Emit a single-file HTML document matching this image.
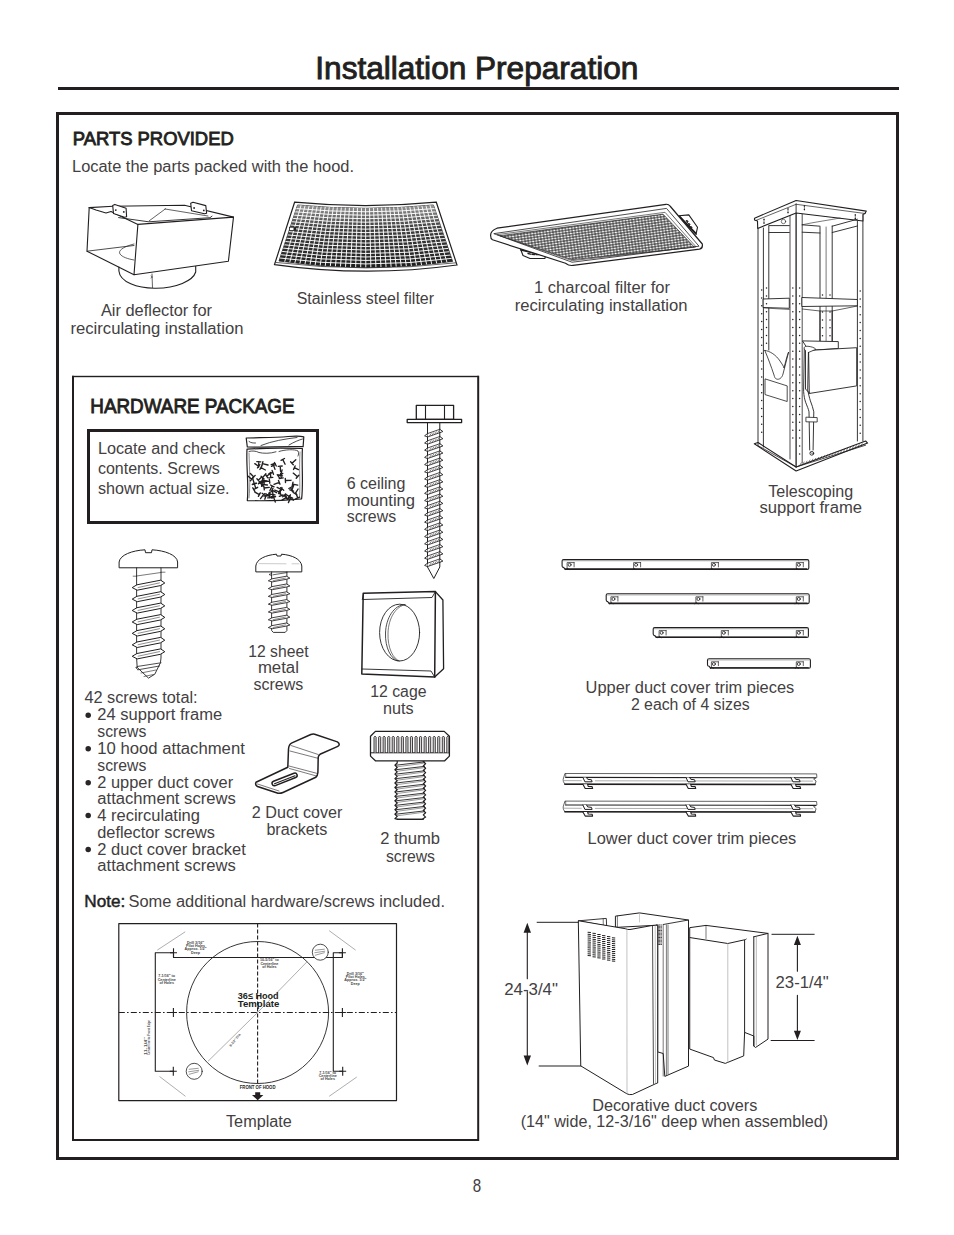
<!DOCTYPE html>
<html><head><meta charset="utf-8">
<style>
html,body{margin:0;padding:0;background:#fff;}
body{width:954px;height:1235px;overflow:hidden;}
svg{display:block;}
text{font-family:"Liberation Sans",sans-serif;}
.t{fill:#434041;}
.b{font-weight:normal;fill:#231f20;stroke:#231f20;stroke-width:0.9px;}
.k{stroke:#231f20;fill:none;stroke-linejoin:round;stroke-linecap:round;}
</style></head><body>
<svg width="954" height="1235" viewBox="0 0 954 1235">

<rect x="58" y="87" width="841" height="3" fill="#231f20"/>
<rect x="57.5" y="113.5" width="840" height="1045" fill="none" stroke="#231f20" stroke-width="3"/>
<rect x="72" y="375.8" width="407" height="1.4" fill="#231f20"/>
<rect x="72" y="375.8" width="2" height="765.2" fill="#231f20"/>
<rect x="477.2" y="375.8" width="2" height="765.2" fill="#231f20"/>
<rect x="72" y="1139" width="407" height="2" fill="#231f20"/>
<rect x="88.5" y="430.5" width="229" height="92" fill="none" stroke="#231f20" stroke-width="3"/>
<text class="b" x="315.3" y="78.8" font-size="30.6" textLength="323.0" lengthAdjust="spacingAndGlyphs">Installation Preparation</text>
<text class="b" x="72.8" y="145.4" font-size="19.2" textLength="160.9" lengthAdjust="spacingAndGlyphs">PARTS PROVIDED</text>
<text class="t" x="72" y="171.7" font-size="16" textLength="282.0" lengthAdjust="spacingAndGlyphs">Locate the parts packed with the hood.</text>
<text class="t" x="100.9" y="316.4" font-size="16" textLength="111.1" lengthAdjust="spacingAndGlyphs">Air deflector for</text>
<text class="t" x="70.5" y="334.0" font-size="16" textLength="172.9" lengthAdjust="spacingAndGlyphs">recirculating installation</text>
<text class="t" x="296.7" y="303.7" font-size="16" textLength="137.3" lengthAdjust="spacingAndGlyphs">Stainless steel filter</text>
<text class="t" x="534" y="293.4" font-size="16" textLength="136.0" lengthAdjust="spacingAndGlyphs">1 charcoal filter for</text>
<text class="t" x="514.7" y="311.0" font-size="16" textLength="172.8" lengthAdjust="spacingAndGlyphs">recirculating installation</text>
<text class="t" x="768.2" y="496.6" font-size="16" textLength="84.9" lengthAdjust="spacingAndGlyphs">Telescoping</text>
<text class="t" x="759.4" y="513.3" font-size="16" textLength="102.6" lengthAdjust="spacingAndGlyphs">support frame</text>
<text class="b" x="90.3" y="413.0" font-size="20.6" textLength="204.3" lengthAdjust="spacingAndGlyphs">HARDWARE PACKAGE</text>
<text class="t" x="97.9" y="454.4" font-size="16" textLength="127.3" lengthAdjust="spacingAndGlyphs">Locate and check</text>
<text class="t" x="97.9" y="474.3" font-size="16" textLength="121.8" lengthAdjust="spacingAndGlyphs">contents. Screws</text>
<text class="t" x="97.9" y="494.3" font-size="16" textLength="131.7" lengthAdjust="spacingAndGlyphs">shown actual size.</text>
<text class="t" x="346.7" y="488.5" font-size="16" textLength="58.7" lengthAdjust="spacingAndGlyphs">6 ceiling</text>
<text class="t" x="346.7" y="505.5" font-size="16" textLength="68.4" lengthAdjust="spacingAndGlyphs">mounting</text>
<text class="t" x="346.7" y="522.1" font-size="16" textLength="49.4" lengthAdjust="spacingAndGlyphs">screws</text>
<text class="t" x="248.3" y="656.5" font-size="16" textLength="60.2" lengthAdjust="spacingAndGlyphs">12 sheet</text>
<text class="t" x="257.9" y="673.4" font-size="16" textLength="41.0" lengthAdjust="spacingAndGlyphs">metal</text>
<text class="t" x="253.6" y="689.8" font-size="16" textLength="49.6" lengthAdjust="spacingAndGlyphs">screws</text>
<text class="t" x="370.2" y="697.3" font-size="16" textLength="56.3" lengthAdjust="spacingAndGlyphs">12 cage</text>
<text class="t" x="383" y="714.0" font-size="16" textLength="30.6" lengthAdjust="spacingAndGlyphs">nuts</text>
<text class="t" x="84.4" y="703.4" font-size="16" textLength="113.2" lengthAdjust="spacingAndGlyphs">42 screws total:</text>
<text class="t" x="97.3" y="720.4" font-size="16" textLength="124.9" lengthAdjust="spacingAndGlyphs">24 support frame</text>
<text class="t" x="97.3" y="737.0" font-size="16" textLength="49.0" lengthAdjust="spacingAndGlyphs">screws</text>
<text class="t" x="97.3" y="754.0" font-size="16" textLength="147.5" lengthAdjust="spacingAndGlyphs">10 hood attachment</text>
<text class="t" x="97.3" y="771.0" font-size="16" textLength="49.0" lengthAdjust="spacingAndGlyphs">screws</text>
<text class="t" x="97.3" y="788.0" font-size="16" textLength="135.8" lengthAdjust="spacingAndGlyphs">2 upper duct cover</text>
<text class="t" x="97.3" y="803.8" font-size="16" textLength="138.5" lengthAdjust="spacingAndGlyphs">attachment screws</text>
<text class="t" x="97.3" y="820.8" font-size="16" textLength="102.6" lengthAdjust="spacingAndGlyphs">4 recirculating</text>
<text class="t" x="97.3" y="837.8" font-size="16" textLength="117.7" lengthAdjust="spacingAndGlyphs">deflector screws</text>
<text class="t" x="97.3" y="854.8" font-size="16" textLength="148.5" lengthAdjust="spacingAndGlyphs">2 duct cover bracket</text>
<text class="t" x="97.3" y="871.4" font-size="16" textLength="138.5" lengthAdjust="spacingAndGlyphs">attachment screws</text>
<text class="t" x="251.8" y="818.4" font-size="16" textLength="90.6" lengthAdjust="spacingAndGlyphs">2 Duct cover</text>
<text class="t" x="266.4" y="834.6" font-size="16" textLength="60.9" lengthAdjust="spacingAndGlyphs">brackets</text>
<text class="t" x="380.2" y="843.6" font-size="16" textLength="59.8" lengthAdjust="spacingAndGlyphs">2 thumb</text>
<text class="t" x="385.9" y="861.7" font-size="16" textLength="49.1" lengthAdjust="spacingAndGlyphs">screws</text>
<text class="t" x="226" y="1127.0" font-size="16" textLength="65.8" lengthAdjust="spacingAndGlyphs">Template</text>
<text class="t" x="585.6" y="693.2" font-size="16" textLength="208.6" lengthAdjust="spacingAndGlyphs">Upper duct cover trim pieces</text>
<text class="t" x="630.9" y="709.9" font-size="16" textLength="118.8" lengthAdjust="spacingAndGlyphs">2 each of 4 sizes</text>
<text class="t" x="587.6" y="844.3" font-size="16" textLength="208.6" lengthAdjust="spacingAndGlyphs">Lower duct cover trim pieces</text>
<text class="t" x="504.2" y="995.4" font-size="16" textLength="53.8" lengthAdjust="spacingAndGlyphs">24-3/4&quot;</text>
<text class="t" x="775.6" y="988.1" font-size="16" textLength="53.2" lengthAdjust="spacingAndGlyphs">23-1/4&quot;</text>
<text class="t" x="592.2" y="1111.0" font-size="16" textLength="165.1" lengthAdjust="spacingAndGlyphs">Decorative duct covers</text>
<text class="t" x="520.7" y="1127.2" font-size="16" textLength="307.4" lengthAdjust="spacingAndGlyphs">(14&quot; wide, 12-3/16&quot; deep when assembled)</text>
<text class="t" x="472.7" y="1191.8" font-size="18.6" textLength="8.4" lengthAdjust="spacingAndGlyphs">8</text>
<text class="b" x="84.3" y="906.5" font-size="16" style="stroke-width:0.45px" textLength="41" lengthAdjust="spacingAndGlyphs">Note:</text>
<text class="t" x="128.5" y="906.6" font-size="16" textLength="316.5" lengthAdjust="spacingAndGlyphs">Some additional hardware/screws included.</text>
<circle cx="88.2" cy="715.2" r="2.75" fill="#2a2627"/>
<circle cx="88.2" cy="748.8" r="2.75" fill="#2a2627"/>
<circle cx="88.2" cy="782.8" r="2.75" fill="#2a2627"/>
<circle cx="88.2" cy="815.6" r="2.75" fill="#2a2627"/>
<circle cx="88.2" cy="849.6" r="2.75" fill="#2a2627"/><g class="k" stroke-width="1.1">
<!-- cylinder -->
<path d="M118.9,267 L118.9,271 C120,282 137,288.5 156,288.2 C176,288 193,281 195.7,272 L195.7,266" fill="#fff"/>
<path d="M152,274 L152.5,287.5" stroke-width="0.7"/>
<path d="M151,276 l1.5,1 -1.5,1" stroke-width="0.6"/>
<!-- back top edge + right side top -->
<path d="M89.2,207.6 L113,206.2 L184.5,205.2 L233.5,217.1"/>
<!-- left side face -->
<path d="M89.2,207.6 L87,251.2 L134,274.7"/>
<!-- inner bottom edge of left opening -->
<path d="M87,251.2 L134,245.5" stroke-width="0.8"/>
<path d="M134,244 C122,247 118,251 120,254 C122,257 128,259 134,260" stroke-width="0.7"/>
<!-- front face -->
<path d="M137.9,224.4 L233.5,217.1 L228.4,261.2 L134,274.7 Z" fill="#fff"/>
<!-- top left edge -->
<path d="M89.2,207.6 L96,210 L106,213 L111,211.5 L137.9,224.4"/>
<!-- inner far edge -->
<path d="M118.6,217.6 L148.7,221.8 L210,217.7 L212,216.2" stroke-width="0.9"/>
<path d="M149,221 L165.5,208.8" stroke-width="0.7"/>
<path d="M165,209 L208,216" stroke-width="0.7"/>
<!-- tabs -->
<path d="M112.7,205.4 L114.8,204.4 L126.1,208.2 L126.6,216.8 L124.5,217.3 L113.5,213.6 Z" fill="#fff"/>
<path d="M190.7,203.2 L193,202.2 L205.8,205.6 L206.6,213.2 L204.4,213.8 L191.5,210.8 Z" fill="#fff"/>
<circle cx="115.8" cy="210.1" r="0.9" fill="#231f20" stroke="none"/>
<circle cx="123.8" cy="211.9" r="0.9" fill="#231f20" stroke="none"/>
<circle cx="194.1" cy="208" r="0.9" fill="#231f20" stroke="none"/>
<circle cx="203.8" cy="210.4" r="0.9" fill="#231f20" stroke="none"/>
</g>

<g>
<path d="M294.6,202.2 Q365.4,209.0 436.3,202.2 L457,265.0 Q365.7,277.6 274.5,264.6 Z" fill="#fff" stroke="#231f20" stroke-width="1.2"/>
<path d="M297.6,205.0 Q365.5,211.6 433.4,205.0 L452.6,261.4 Q365.8,273.6 279.0,261.0 Z" fill="#1e1e1e" stroke="#231f20" stroke-width="0.8"/>
<clipPath id="ssclip"><path d="M297.6,205.0 Q365.5,211.6 433.4,205.0 L452.6,261.4 Q365.8,273.6 279.0,261.0 Z"/></clipPath>
<g clip-path="url(#ssclip)" stroke="#fff" stroke-width="0.95" fill="none">
<line x1="301.59" y1="203.38" x2="284.11" y2="263.72"/>
<line x1="305.59" y1="203.73" x2="289.21" y2="264.40"/>
<line x1="309.58" y1="204.06" x2="294.32" y2="265.03"/>
<line x1="313.58" y1="204.37" x2="299.42" y2="265.62"/>
<line x1="317.57" y1="204.66" x2="304.53" y2="266.17"/>
<line x1="321.56" y1="204.92" x2="309.64" y2="266.67"/>
<line x1="325.56" y1="205.16" x2="314.74" y2="267.14"/>
<line x1="329.55" y1="205.38" x2="319.85" y2="267.56"/>
<line x1="333.55" y1="205.57" x2="324.95" y2="267.93"/>
<line x1="337.54" y1="205.74" x2="330.06" y2="268.27"/>
<line x1="341.54" y1="205.89" x2="335.16" y2="268.56"/>
<line x1="345.53" y1="206.01" x2="340.27" y2="268.80"/>
<line x1="349.52" y1="206.12" x2="345.38" y2="269.01"/>
<line x1="353.52" y1="206.20" x2="350.48" y2="269.17"/>
<line x1="357.51" y1="206.25" x2="355.59" y2="269.29"/>
<line x1="361.51" y1="206.29" x2="360.69" y2="269.37"/>
<line x1="365.50" y1="206.30" x2="365.80" y2="269.40"/>
<line x1="369.49" y1="206.29" x2="370.91" y2="269.39"/>
<line x1="373.49" y1="206.25" x2="376.01" y2="269.34"/>
<line x1="377.48" y1="206.20" x2="381.12" y2="269.24"/>
<line x1="381.48" y1="206.12" x2="386.22" y2="269.10"/>
<line x1="385.47" y1="206.01" x2="391.33" y2="268.92"/>
<line x1="389.46" y1="205.89" x2="396.44" y2="268.70"/>
<line x1="393.46" y1="205.74" x2="401.54" y2="268.43"/>
<line x1="397.45" y1="205.57" x2="406.65" y2="268.12"/>
<line x1="401.45" y1="205.38" x2="411.75" y2="267.77"/>
<line x1="405.44" y1="205.16" x2="416.86" y2="267.37"/>
<line x1="409.44" y1="204.92" x2="421.96" y2="266.93"/>
<line x1="413.43" y1="204.66" x2="427.07" y2="266.45"/>
<line x1="417.42" y1="204.37" x2="432.18" y2="265.93"/>
<line x1="421.42" y1="204.06" x2="437.28" y2="265.36"/>
<line x1="425.41" y1="203.73" x2="442.39" y2="264.75"/>
<line x1="429.41" y1="203.38" x2="447.49" y2="264.10"/>
<path d="M293.51,208.29 Q365.52,215.25 437.53,208.32"/>
<path d="M292.41,211.59 Q365.54,218.89 438.66,211.64"/>
<path d="M291.32,214.88 Q365.55,222.54 439.79,214.95"/>
<path d="M290.22,218.18 Q365.57,226.19 440.92,218.27"/>
<path d="M289.13,221.47 Q365.59,229.84 442.05,221.59"/>
<path d="M288.04,224.76 Q365.61,233.48 443.18,224.91"/>
<path d="M286.94,228.06 Q365.62,237.13 444.31,228.22"/>
<path d="M285.85,231.35 Q365.64,240.78 445.44,231.54"/>
<path d="M284.75,234.65 Q365.66,244.42 446.56,234.86"/>
<path d="M283.66,237.94 Q365.68,248.07 447.69,238.18"/>
<path d="M282.56,241.24 Q365.69,251.72 448.82,241.49"/>
<path d="M281.47,244.53 Q365.71,255.36 449.95,244.81"/>
<path d="M280.38,247.82 Q365.73,259.01 451.08,248.13"/>
<path d="M279.28,251.12 Q365.75,262.66 452.21,251.45"/>
<path d="M278.19,254.41 Q365.76,266.31 453.34,254.76"/>
<path d="M277.09,257.71 Q365.78,269.95 454.47,258.08"/>
</g>
<defs><linearGradient id="ssg" x1="0" y1="0" x2="0" y2="1"><stop offset="0" stop-color="#fff" stop-opacity="0.55"/><stop offset="0.35" stop-color="#fff" stop-opacity="0.15"/><stop offset="1" stop-color="#fff" stop-opacity="0"/></linearGradient></defs>
<path d="M297.6,205.0 Q365.5,211.6 433.4,205.0 L452.6,261.4 Q365.8,273.6 279.0,261.0 Z" fill="url(#ssg)" stroke="none"/>
<path d="M275.5,262.40000000000003 Q365.7,273.20000000000005 456,262.8" fill="none" stroke="#231f20" stroke-width="0.7"/>
<rect x="289.5" y="227.2" width="6" height="3.4" fill="#fff" stroke="#222" stroke-width="0.8"/><rect x="293.5" y="227.2" width="2.5" height="3.4" fill="#222"/>
</g>
<defs>
<pattern id="hexp" width="3.2" height="2.6" patternUnits="userSpaceOnUse" patternTransform="rotate(-8)">
<rect width="3.2" height="2.6" fill="#fff"/>
<path d="M0,1.3 L0.8,0 L2.4,0 L3.2,1.3 L2.4,2.6 L0.8,2.6 Z" fill="none" stroke="#262626" stroke-width="0.8"/>
</pattern>
</defs>
<g class="k">
<!-- right tab -->
<path d="M678.9,215.7 L688.8,214.9 L697.5,227.3 L696.2,233.5 Z" fill="#fff" stroke-width="1.1"/>
<path d="M679.5,216.5 L696,234" stroke-width="1.8"/>
<path d="M686.5,220.5 l1.6,0.6 -0.6,1.4 Z M688.5,223.5 l1.6,0.6 -0.6,1.4 Z M690.5,226.5 l1.6,0.6 -0.6,1.4 Z" fill="#231f20" stroke-width="0.9"/>
<!-- bottom-left tab -->
<path d="M520.5,249 L523,255.5 L530,258.5 L545,258.5 L545.5,255 Z" fill="#fff" stroke-width="1.1"/>
<path d="M521,250 L545,255.5" stroke-width="1.6"/>
<path d="M528,253.5 l2.5,0.6 M532,254.3 l2.5,0.3 M536,254.6 l2.5,0" stroke-width="1.4"/>
<!-- outer outline -->
<path d="M490.6,235.5 Q490.5,230.5 497,228.2 L666,204.3 Q668.5,204 670,206 L702.3,244 Q703,248.5 699.5,249.2 L573,265.4 Q569,266 565.5,263.2 L492.5,239.8 Q490.6,238.8 490.6,235.5 Z" fill="#fff" stroke-width="1.2"/>
<!-- inner rims -->
<path d="M494.2,233.6 L666.5,208.4 L699,246.2 L572.5,262.2 Z" stroke-width="0.8"/>
<path d="M497.5,234.6 L665,212.3 L696,246.8 L572.5,260.6 Z" stroke-width="0.6"/>
<!-- mesh -->
<path d="M500.3,235.7 L663,214.2 L694.4,247.2 L572.3,259.6 Z" fill="url(#hexp)" stroke-width="0.7"/>
</g>

<g class="k" stroke-width="0.9">
<path d="M754.3,443.8 L796.1,471 L867.6,443.1 L865.6,441 L796.1,467 L758,442.5 Z" fill="#fff" stroke-width="1.1"/>
<path d="M758,445.6 L796.1,467 L865.6,445.2" stroke-width="0.8"/>
<path d="M800.0,465.1 l1.2,-2.2" stroke-width="0.55"/>
<path d="M802.9,464.2 l1.2,-2.2" stroke-width="0.55"/>
<path d="M805.8,463.3 l1.2,-2.2" stroke-width="0.55"/>
<path d="M808.7,462.3 l1.2,-2.2" stroke-width="0.55"/>
<path d="M811.6,461.4 l1.2,-2.2" stroke-width="0.55"/>
<path d="M814.5,460.5 l1.2,-2.2" stroke-width="0.55"/>
<path d="M817.4,459.6 l1.2,-2.2" stroke-width="0.55"/>
<path d="M820.3,458.7 l1.2,-2.2" stroke-width="0.55"/>
<path d="M823.2,457.8 l1.2,-2.2" stroke-width="0.55"/>
<path d="M826.1,456.9 l1.2,-2.2" stroke-width="0.55"/>
<path d="M829.0,456.0 l1.2,-2.2" stroke-width="0.55"/>
<path d="M831.9,455.1 l1.2,-2.2" stroke-width="0.55"/>
<path d="M834.8,454.2 l1.2,-2.2" stroke-width="0.55"/>
<path d="M837.7,453.3 l1.2,-2.2" stroke-width="0.55"/>
<path d="M840.6,452.3 l1.2,-2.2" stroke-width="0.55"/>
<path d="M843.5,451.4 l1.2,-2.2" stroke-width="0.55"/>
<path d="M846.4,450.5 l1.2,-2.2" stroke-width="0.55"/>
<path d="M849.3,449.6 l1.2,-2.2" stroke-width="0.55"/>
<path d="M852.2,448.7 l1.2,-2.2" stroke-width="0.55"/>
<path d="M855.1,447.8 l1.2,-2.2" stroke-width="0.55"/>
<path d="M858.0,446.9 l1.2,-2.2" stroke-width="0.55"/>
<path d="M860.9,446.0 l1.2,-2.2" stroke-width="0.55"/>
<line x1="758" y1="228" x2="758" y2="445"/>
<line x1="763.4" y1="228" x2="763.4" y2="447"/>
<line x1="768.8" y1="226" x2="768.8" y2="299"/>
<line x1="768.8" y1="308" x2="768.8" y2="350"/>
<line x1="790" y1="213" x2="790" y2="459" stroke-width="0.8"/>
<line x1="796.1" y1="203" x2="796.1" y2="467" stroke-width="1.3"/>
<line x1="802.2" y1="213" x2="802.2" y2="463" stroke-width="0.8"/>
<line x1="857.4" y1="221" x2="857.4" y2="441" />
<line x1="862.9" y1="215" x2="862.9" y2="441" />
<line x1="820" y1="227" x2="820" y2="341"/>
<line x1="826.1" y1="227" x2="826.1" y2="341" stroke-width="0.6"/>
<line x1="832.2" y1="226" x2="832.2" y2="341"/>
<path d="M754.5,218.2 L796.1,200.5 L866.3,211.1 L865,213.5 L862.9,214.5 L862.9,221 L796.1,213 L757.7,228.4 L757.5,221 L754.5,220 Z" fill="#fff" stroke-width="1.1"/>
<path d="M756,220.4 L796.1,204.3 L865,213.5" stroke-width="0.7"/>
<line x1="796.1" y1="203.8" x2="796.1" y2="213"/>
<path d="M769,225.6 L789.3,225.6 M769,232.5 L789.3,232.5" />
<path d="M802.2,224.8 L820,226.2 M802.2,232.2 L820,233" />
<path d="M832.2,226.2 L857.4,219.2 M832.2,232.5 L857.4,226" />
<path d="M802.2,224.8 C815,222 830,220 840,218" stroke-width="0.6"/>
<circle cx="783.5" cy="221.5" r="2.2" stroke-width="0.6"/>
<path d="M763.4,299 L789.3,298.2 L789.3,308.3 L763.4,307.5 Z" fill="#fff"/>
<path d="M764.5,308 L789.3,309.5" stroke-width="0.6"/>
<path d="M802.2,297.5 L857.4,299.5 L857.4,305.8 L802.2,306.5 Z" fill="#fff"/>
<path d="M802.2,309 L820,311 L832.2,311 L857.4,306" stroke-width="0.7"/>
<line x1="820" y1="311" x2="820" y2="341"/><line x1="832.2" y1="311" x2="832.2" y2="341"/>
<path d="M802.9,340.9 L838.3,341.6 L838.3,348.5 L809,350.4 Z" fill="#fff"/>
<path d="M809,350.4 L856.7,347.7 L856.7,385.9 L809.7,393.4 Z" fill="#fff"/>
<path d="M809,350.4 L805.5,349 L805.5,389 L809.7,393.4" />
<path d="M804.3,349.1 C803.5,347 805,346 808,346.3 C811,346.6 814,347.3 815.9,349.3 L808.4,352.5" fill="#fff" stroke-width="0.8"/>
<path d="M804.3,349.1 L803.6,391.3 C804,396 804.5,399 805.6,402.2 C807,406 808.5,409 809,411.8 L809.7,450" stroke-width="0.9"/>
<path d="M808.4,352.5 L807.7,390 C808.5,394 809.5,398 810.4,400.9 C811.8,404.5 813,408 813.8,411.8 L813.1,450" stroke-width="0.9"/>
<path d="M806.3,417.2 L817.2,417.6 L817.2,422 L806.3,421.8 Z" fill="#fff" stroke-width="0.8"/>
<circle cx="811.8" cy="453.3" r="1.9" fill="#fff" stroke-width="0.9"/>
<path d="M810.5,452.5 l2.6,1.6" stroke-width="0.6"/>
<path d="M764.8,350.4 C770,351 776,355 780,361 C782,364 783.5,366 784,368 C785.5,362 787,356 788.6,352 L783,374 C782,378 779,380 776.5,379 C775,378.5 774.5,377 774,375 C771,366 768,358 764.8,350.4 Z" fill="#fff" stroke-width="0.8"/>
<path d="M765.4,379 L787.2,385.9 L787.2,401.5 L765.4,394.7 Z" fill="#fff" stroke-width="0.8"/>
<circle cx="761.7" cy="290.0" r="0.75" fill="#231f20" stroke="none"/>
<circle cx="761.7" cy="297.9" r="0.75" fill="#231f20" stroke="none"/>
<circle cx="761.7" cy="305.8" r="0.75" fill="#231f20" stroke="none"/>
<circle cx="761.7" cy="313.7" r="0.75" fill="#231f20" stroke="none"/>
<circle cx="761.7" cy="321.6" r="0.75" fill="#231f20" stroke="none"/>
<circle cx="761.7" cy="329.5" r="0.75" fill="#231f20" stroke="none"/>
<circle cx="761.7" cy="337.4" r="0.75" fill="#231f20" stroke="none"/>
<circle cx="761.7" cy="345.3" r="0.75" fill="#231f20" stroke="none"/>
<circle cx="761.7" cy="353.2" r="0.75" fill="#231f20" stroke="none"/>
<circle cx="761.7" cy="361.1" r="0.75" fill="#231f20" stroke="none"/>
<circle cx="761.7" cy="369.0" r="0.75" fill="#231f20" stroke="none"/>
<circle cx="761.7" cy="376.9" r="0.75" fill="#231f20" stroke="none"/>
<circle cx="761.7" cy="384.8" r="0.75" fill="#231f20" stroke="none"/>
<circle cx="761.7" cy="392.7" r="0.75" fill="#231f20" stroke="none"/>
<circle cx="761.7" cy="400.6" r="0.75" fill="#231f20" stroke="none"/>
<circle cx="761.7" cy="408.5" r="0.75" fill="#231f20" stroke="none"/>
<circle cx="761.7" cy="416.4" r="0.75" fill="#231f20" stroke="none"/>
<circle cx="761.7" cy="424.3" r="0.75" fill="#231f20" stroke="none"/>
<circle cx="761.7" cy="432.2" r="0.75" fill="#231f20" stroke="none"/>
<circle cx="766.5" cy="288.0" r="0.75" fill="#231f20" stroke="none"/>
<circle cx="766.5" cy="295.9" r="0.75" fill="#231f20" stroke="none"/>
<circle cx="766.5" cy="303.8" r="0.75" fill="#231f20" stroke="none"/>
<circle cx="766.5" cy="311.7" r="0.75" fill="#231f20" stroke="none"/>
<circle cx="766.5" cy="319.6" r="0.75" fill="#231f20" stroke="none"/>
<circle cx="766.5" cy="327.5" r="0.75" fill="#231f20" stroke="none"/>
<circle cx="766.5" cy="335.4" r="0.75" fill="#231f20" stroke="none"/>
<circle cx="766.5" cy="343.3" r="0.75" fill="#231f20" stroke="none"/>
<circle cx="792.8" cy="288.0" r="0.75" fill="#231f20" stroke="none"/>
<circle cx="792.8" cy="295.9" r="0.75" fill="#231f20" stroke="none"/>
<circle cx="792.8" cy="303.8" r="0.75" fill="#231f20" stroke="none"/>
<circle cx="792.8" cy="311.7" r="0.75" fill="#231f20" stroke="none"/>
<circle cx="792.8" cy="319.6" r="0.75" fill="#231f20" stroke="none"/>
<circle cx="792.8" cy="327.5" r="0.75" fill="#231f20" stroke="none"/>
<circle cx="792.8" cy="335.4" r="0.75" fill="#231f20" stroke="none"/>
<circle cx="792.8" cy="343.3" r="0.75" fill="#231f20" stroke="none"/>
<circle cx="792.8" cy="351.2" r="0.75" fill="#231f20" stroke="none"/>
<circle cx="792.8" cy="359.1" r="0.75" fill="#231f20" stroke="none"/>
<circle cx="792.8" cy="367.0" r="0.75" fill="#231f20" stroke="none"/>
<circle cx="792.8" cy="374.9" r="0.75" fill="#231f20" stroke="none"/>
<circle cx="792.8" cy="382.8" r="0.75" fill="#231f20" stroke="none"/>
<circle cx="792.8" cy="390.7" r="0.75" fill="#231f20" stroke="none"/>
<circle cx="792.8" cy="398.6" r="0.75" fill="#231f20" stroke="none"/>
<circle cx="792.8" cy="406.5" r="0.75" fill="#231f20" stroke="none"/>
<circle cx="792.8" cy="414.4" r="0.75" fill="#231f20" stroke="none"/>
<circle cx="792.8" cy="422.3" r="0.75" fill="#231f20" stroke="none"/>
<circle cx="792.8" cy="430.2" r="0.75" fill="#231f20" stroke="none"/>
<circle cx="792.8" cy="438.1" r="0.75" fill="#231f20" stroke="none"/>
<circle cx="799.6" cy="288.0" r="0.75" fill="#231f20" stroke="none"/>
<circle cx="799.6" cy="295.9" r="0.75" fill="#231f20" stroke="none"/>
<circle cx="799.6" cy="303.8" r="0.75" fill="#231f20" stroke="none"/>
<circle cx="799.6" cy="311.7" r="0.75" fill="#231f20" stroke="none"/>
<circle cx="799.6" cy="319.6" r="0.75" fill="#231f20" stroke="none"/>
<circle cx="799.6" cy="327.5" r="0.75" fill="#231f20" stroke="none"/>
<circle cx="799.6" cy="335.4" r="0.75" fill="#231f20" stroke="none"/>
<circle cx="799.6" cy="343.3" r="0.75" fill="#231f20" stroke="none"/>
<circle cx="799.6" cy="351.2" r="0.75" fill="#231f20" stroke="none"/>
<circle cx="799.6" cy="359.1" r="0.75" fill="#231f20" stroke="none"/>
<circle cx="799.6" cy="367.0" r="0.75" fill="#231f20" stroke="none"/>
<circle cx="799.6" cy="374.9" r="0.75" fill="#231f20" stroke="none"/>
<circle cx="799.6" cy="382.8" r="0.75" fill="#231f20" stroke="none"/>
<circle cx="799.6" cy="390.7" r="0.75" fill="#231f20" stroke="none"/>
<circle cx="799.6" cy="398.6" r="0.75" fill="#231f20" stroke="none"/>
<circle cx="799.6" cy="406.5" r="0.75" fill="#231f20" stroke="none"/>
<circle cx="799.6" cy="414.4" r="0.75" fill="#231f20" stroke="none"/>
<circle cx="799.6" cy="422.3" r="0.75" fill="#231f20" stroke="none"/>
<circle cx="799.6" cy="430.2" r="0.75" fill="#231f20" stroke="none"/>
<circle cx="799.6" cy="438.1" r="0.75" fill="#231f20" stroke="none"/>
<circle cx="799.6" cy="446.0" r="0.75" fill="#231f20" stroke="none"/>
<circle cx="799.6" cy="453.9" r="0.75" fill="#231f20" stroke="none"/>
<circle cx="860.2" cy="291.0" r="0.75" fill="#231f20" stroke="none"/>
<circle cx="860.2" cy="298.9" r="0.75" fill="#231f20" stroke="none"/>
<circle cx="860.2" cy="306.8" r="0.75" fill="#231f20" stroke="none"/>
<circle cx="860.2" cy="314.7" r="0.75" fill="#231f20" stroke="none"/>
<circle cx="860.2" cy="322.6" r="0.75" fill="#231f20" stroke="none"/>
<circle cx="860.2" cy="330.5" r="0.75" fill="#231f20" stroke="none"/>
<circle cx="860.2" cy="338.4" r="0.75" fill="#231f20" stroke="none"/>
<circle cx="860.2" cy="346.3" r="0.75" fill="#231f20" stroke="none"/>
<circle cx="860.2" cy="354.2" r="0.75" fill="#231f20" stroke="none"/>
<circle cx="860.2" cy="362.1" r="0.75" fill="#231f20" stroke="none"/>
<circle cx="860.2" cy="370.0" r="0.75" fill="#231f20" stroke="none"/>
<circle cx="860.2" cy="377.9" r="0.75" fill="#231f20" stroke="none"/>
<circle cx="860.2" cy="385.8" r="0.75" fill="#231f20" stroke="none"/>
<circle cx="860.2" cy="393.7" r="0.75" fill="#231f20" stroke="none"/>
<circle cx="860.2" cy="401.6" r="0.75" fill="#231f20" stroke="none"/>
<circle cx="860.2" cy="409.5" r="0.75" fill="#231f20" stroke="none"/>
<circle cx="860.2" cy="417.4" r="0.75" fill="#231f20" stroke="none"/>
<circle cx="860.2" cy="425.3" r="0.75" fill="#231f20" stroke="none"/>
<circle cx="860.2" cy="433.2" r="0.75" fill="#231f20" stroke="none"/>
<circle cx="822.5" cy="295.0" r="0.75" fill="#231f20" stroke="none"/>
<circle cx="830" cy="295.0" r="0.75" fill="#231f20" stroke="none"/>
<circle cx="822.5" cy="312.0" r="0.75" fill="#231f20" stroke="none"/>
<circle cx="822.5" cy="319.9" r="0.75" fill="#231f20" stroke="none"/>
<circle cx="822.5" cy="327.8" r="0.75" fill="#231f20" stroke="none"/>
<circle cx="822.5" cy="335.7" r="0.75" fill="#231f20" stroke="none"/>
<circle cx="830" cy="312.0" r="0.75" fill="#231f20" stroke="none"/>
<circle cx="830" cy="319.9" r="0.75" fill="#231f20" stroke="none"/>
<circle cx="830" cy="327.8" r="0.75" fill="#231f20" stroke="none"/>
<circle cx="830" cy="335.7" r="0.75" fill="#231f20" stroke="none"/>
<path d="M764,219 l0,4.5" stroke-width="0.6"/><circle cx="764" cy="219.5" r="0.7" fill="#231f20" stroke="none"/><circle cx="764" cy="223" r="0.7" fill="#231f20" stroke="none"/>
<path d="M788,208.5 l0,4.5" stroke-width="0.6"/><circle cx="788" cy="209.0" r="0.7" fill="#231f20" stroke="none"/><circle cx="788" cy="212.5" r="0.7" fill="#231f20" stroke="none"/>
<path d="M804.4,205.5 l0,4.5" stroke-width="0.6"/><circle cx="804.4" cy="206.0" r="0.7" fill="#231f20" stroke="none"/><circle cx="804.4" cy="209.5" r="0.7" fill="#231f20" stroke="none"/>
<path d="M855.3,214.5 l0,4.5" stroke-width="0.6"/><circle cx="855.3" cy="215.0" r="0.7" fill="#231f20" stroke="none"/><circle cx="855.3" cy="218.5" r="0.7" fill="#231f20" stroke="none"/>
</g>
<g class="k" stroke-width="1.2">
<path d="M246.2,438 C260,437.5 275,438 288,436.5 C295,436 300,435.8 303.8,436.8 L303.1,446.7 C285,446 265,447.5 247.3,447 Z" fill="#fff"/>
<path d="M261,445.5 C272,441 285,439 297,437.5 M289,445 C294,442 299,440 302.5,439 M249,441.5 C251,443 253,443 255.5,443" stroke-width="0.8"/>
<path d="M247,449.2 C260,448.3 285,448 302.4,448.5 C301.5,465 303.5,485 301.6,498.8 C285,500.5 265,501 247.3,500.6 C249,485 246,465 247,449.2 Z" fill="#fff"/>
<path d="M249,451.5 C252,450.5 256,451 259,452.5 C263,453.5 270,453.8 276,451.8 M279,451.5 C285,449.5 295,449 298,451 C299,453 298.5,455 298,456" stroke-width="0.8"/>
<path d="M249,453 C249.5,470 250.5,485 249,498 M300,452 C299,470 300.5,485 299.5,497" stroke-width="0.5"/>
<path d="M273.1,464.0 l1.9,5.4 M271.2,464.7 L275.0,463.4" stroke-width="1.35"/>
<path d="M292.0,463.2 l3.8,-3.5 M293.3,464.7 L290.6,461.7" stroke-width="1.35"/>
<path d="M275.3,464.3 l-3.8,2.1 M274.4,462.5 L276.3,466.0" stroke-width="1.35"/>
<path d="M262.4,463.6 l5.6,1.4 M261.9,465.5 L262.9,461.7" stroke-width="1.35"/>
<path d="M280.2,466.1 l0.4,5.3 M278.2,466.3 L282.2,466.0" stroke-width="1.35"/>
<path d="M258.8,461.7 l-0.2,5.5 M256.8,461.6 L260.8,461.8" stroke-width="1.35"/>
<path d="M258.6,466.3 l-3.8,-2.7 M259.8,464.6 L257.5,467.9" stroke-width="1.35"/>
<path d="M282.7,459.4 l2.4,4.8 M281.0,460.3 L284.5,458.5" stroke-width="1.35"/>
<path d="M294.3,467.7 l4.1,1.9 M293.5,469.5 L295.1,465.9" stroke-width="1.35"/>
<path d="M279.9,492.1 l-5.2,-2.0 M280.7,490.2 L279.2,493.9" stroke-width="1.35"/>
<path d="M251.7,479.3 l-3.5,-3.1 M253.0,477.8 L250.4,480.8" stroke-width="1.35"/>
<path d="M253.8,489.5 l3.9,-2.2 M254.8,491.3 L252.8,487.8" stroke-width="1.35"/>
<path d="M262.4,480.5 l4.6,0.5 M262.2,482.5 L262.6,478.5" stroke-width="1.35"/>
<path d="M272.8,472.4 l-4.0,1.4 M272.1,470.5 L273.5,474.3" stroke-width="1.35"/>
<path d="M290.6,487.6 l2.1,4.3 M288.8,488.5 L292.4,486.7" stroke-width="1.35"/>
<path d="M281.1,489.3 l-4.0,-1.9 M282.0,487.5 L280.2,491.1" stroke-width="1.35"/>
<path d="M282.1,488.9 l-3.6,4.3 M280.6,487.6 L283.7,490.2" stroke-width="1.35"/>
<path d="M264.1,488.0 l5.2,-0.6 M264.3,489.9 L263.8,486.0" stroke-width="1.35"/>
<path d="M297.8,498.0 l-1.9,-4.8 M299.7,497.2 L295.9,498.7" stroke-width="1.35"/>
<path d="M284.3,495.4 l2.7,3.3 M282.7,496.7 L285.8,494.1" stroke-width="1.35"/>
<path d="M261.8,484.4 l5.6,0.6 M261.6,486.4 L262.0,482.4" stroke-width="1.35"/>
<path d="M254.3,483.7 l-1.7,-5.5 M256.2,483.1 L252.4,484.3" stroke-width="1.35"/>
<path d="M269.8,494.1 l5.2,0.7 M269.6,496.1 L270.1,492.2" stroke-width="1.35"/>
<path d="M269.2,495.5 l-5.3,0.6 M268.9,493.5 L269.4,497.5" stroke-width="1.35"/>
<path d="M290.8,497.3 l-2.4,5.3 M289.0,496.5 L292.6,498.2" stroke-width="1.35"/>
<path d="M260.9,467.7 l4.5,2.3 M259.9,469.5 L261.8,465.9" stroke-width="1.35"/>
<path d="M273.1,496.6 l-0.5,-5.6 M275.1,496.4 L271.1,496.7" stroke-width="1.35"/>
<path d="M269.7,497.7 l-0.4,-5.3 M271.7,497.5 L267.7,497.9" stroke-width="1.35"/>
<path d="M280.6,475.4 l1.5,-5.5 M282.5,475.9 L278.7,474.8" stroke-width="1.35"/>
<path d="M263.7,494.4 l-3.2,4.2 M262.1,493.2 L265.3,495.5" stroke-width="1.35"/>
<path d="M266.6,476.2 l4.5,-3.3 M267.8,477.8 L265.5,474.5" stroke-width="1.35"/>
<path d="M286.6,497.4 l-4.7,2.7 M285.6,495.7 L287.6,499.2" stroke-width="1.35"/>
<path d="M262.6,477.6 l3.3,-3.9 M264.1,479.0 L261.1,476.3" stroke-width="1.35"/>
<path d="M253.8,476.9 l-3.4,-3.4 M255.2,475.4 L252.4,478.3" stroke-width="1.35"/>
<path d="M259.4,494.7 l-4.5,-2.6 M260.3,492.9 L258.4,496.4" stroke-width="1.35"/>
<path d="M272.0,490.2 l4.6,2.5 M271.1,491.9 L273.0,488.4" stroke-width="1.35"/>
<path d="M285.4,480.5 l5.6,-0.2 M285.5,482.5 L285.3,478.5" stroke-width="1.35"/>
<path d="M281.3,478.2 l-0.7,-4.8 M283.2,477.9 L279.3,478.5" stroke-width="1.35"/>
<path d="M270.8,477.6 l-0.5,-5.1 M272.8,477.4 L268.8,477.8" stroke-width="1.35"/>
<path d="M263.7,481.3 l-5.2,2.0 M263.0,479.4 L264.4,483.2" stroke-width="1.35"/>
<path d="M288.8,497.5 l4.7,2.7 M287.8,499.3 L289.8,495.8" stroke-width="1.35"/>
<path d="M292.6,484.1 l5.1,1.0 M292.2,486.1 L293.0,482.1" stroke-width="1.35"/>
<path d="M269.5,481.2 l-4.5,0.5 M269.3,479.2 L269.8,483.2" stroke-width="1.35"/>
<path d="M281.2,495.7 l-1.6,-4.7 M283.1,495.0 L279.3,496.3" stroke-width="1.35"/>
<path d="M297.5,476.8 l-4.3,-3.7 M298.8,475.3 L296.2,478.3" stroke-width="1.35"/>
<path d="M263.1,481.3 l-0.2,4.2 M261.1,481.2 L265.1,481.4" stroke-width="1.35"/>
<path d="M266.5,494.2 l-1.7,5.0 M264.6,493.6 L268.4,494.9" stroke-width="1.35"/>
<path d="M254.4,483.9 l1.3,4.3 M252.5,484.5 L256.4,483.3" stroke-width="1.35"/>
<path d="M278.4,476.3 l4.4,-2.9 M279.5,478.0 L277.3,474.6" stroke-width="1.35"/>
<path d="M279.3,482.3 l-5.3,2.0 M278.5,480.4 L280.0,484.2" stroke-width="1.35"/>
<path d="M272.3,485.9 l-2.4,4.7 M270.5,485.0 L274.1,486.8" stroke-width="1.35"/>
<path d="M273.7,497.4 l1.6,4.6 M271.8,498.0 L275.6,496.7" stroke-width="1.35"/>
<path d="M291.7,490.5 l2.0,-5.3 M293.6,491.2 L289.8,489.8" stroke-width="1.35"/>
<path d="M258.2,480.3 l3.5,-3.3 M259.6,481.7 L256.9,478.8" stroke-width="1.35"/>
<path d="M289.4,496.5 l-4.1,-2.3 M290.4,494.8 L288.4,498.3" stroke-width="1.35"/>
<path d="M259.9,482.5 l3.3,3.8 M258.4,483.8 L261.4,481.2" stroke-width="1.35"/>
<path d="M295.2,493.7 l2.9,-4.7 M296.9,494.7 L293.5,492.6" stroke-width="1.35"/>
</g>
<g class="k" stroke-width="1">
<path d="M427.5,422.6 L427.5,567 L433.8,578.5 L439.8,567 L439.8,422.6" fill="#fff"/>
<path d="M427.5,433.6 L424.6,435.8 L427.5,437.0" fill="#fff" stroke-width="0.9"/>
<path d="M439.8,429.3 L442.9,431.5 L439.8,432.7" fill="#fff" stroke-width="0.9"/>
<path d="M427.5,433.6 L439.8,429.3 M427.5,437.0 L439.8,432.7" stroke-width="0.8"/>
<path d="M429.5,436.0 l1.6,-2.4" stroke-width="0.55"/>
<path d="M432.1,435.1 l1.6,-2.4" stroke-width="0.55"/>
<path d="M434.7,434.2 l1.6,-2.4" stroke-width="0.55"/>
<path d="M437.3,433.3 l1.6,-2.4" stroke-width="0.55"/>
<path d="M427.5,440.8 L424.6,443.0 L427.5,444.2" fill="#fff" stroke-width="0.9"/>
<path d="M439.8,436.5 L442.9,438.7 L439.8,439.9" fill="#fff" stroke-width="0.9"/>
<path d="M427.5,440.8 L439.8,436.5 M427.5,444.2 L439.8,439.9" stroke-width="0.8"/>
<path d="M429.5,443.2 l1.6,-2.4" stroke-width="0.55"/>
<path d="M432.1,442.3 l1.6,-2.4" stroke-width="0.55"/>
<path d="M434.7,441.4 l1.6,-2.4" stroke-width="0.55"/>
<path d="M437.3,440.5 l1.6,-2.4" stroke-width="0.55"/>
<path d="M427.5,448.0 L424.6,450.2 L427.5,451.4" fill="#fff" stroke-width="0.9"/>
<path d="M439.8,443.7 L442.9,445.9 L439.8,447.1" fill="#fff" stroke-width="0.9"/>
<path d="M427.5,448.0 L439.8,443.7 M427.5,451.4 L439.8,447.1" stroke-width="0.8"/>
<path d="M429.5,450.4 l1.6,-2.4" stroke-width="0.55"/>
<path d="M432.1,449.5 l1.6,-2.4" stroke-width="0.55"/>
<path d="M434.7,448.6 l1.6,-2.4" stroke-width="0.55"/>
<path d="M437.3,447.7 l1.6,-2.4" stroke-width="0.55"/>
<path d="M427.5,455.2 L424.6,457.4 L427.5,458.6" fill="#fff" stroke-width="0.9"/>
<path d="M439.8,450.9 L442.9,453.1 L439.8,454.3" fill="#fff" stroke-width="0.9"/>
<path d="M427.5,455.2 L439.8,450.9 M427.5,458.6 L439.8,454.3" stroke-width="0.8"/>
<path d="M429.5,457.6 l1.6,-2.4" stroke-width="0.55"/>
<path d="M432.1,456.7 l1.6,-2.4" stroke-width="0.55"/>
<path d="M434.7,455.8 l1.6,-2.4" stroke-width="0.55"/>
<path d="M437.3,454.9 l1.6,-2.4" stroke-width="0.55"/>
<path d="M427.5,462.4 L424.6,464.6 L427.5,465.8" fill="#fff" stroke-width="0.9"/>
<path d="M439.8,458.1 L442.9,460.3 L439.8,461.5" fill="#fff" stroke-width="0.9"/>
<path d="M427.5,462.4 L439.8,458.1 M427.5,465.8 L439.8,461.5" stroke-width="0.8"/>
<path d="M429.5,464.8 l1.6,-2.4" stroke-width="0.55"/>
<path d="M432.1,463.9 l1.6,-2.4" stroke-width="0.55"/>
<path d="M434.7,463.0 l1.6,-2.4" stroke-width="0.55"/>
<path d="M437.3,462.1 l1.6,-2.4" stroke-width="0.55"/>
<path d="M427.5,469.6 L424.6,471.8 L427.5,473.0" fill="#fff" stroke-width="0.9"/>
<path d="M439.8,465.3 L442.9,467.5 L439.8,468.7" fill="#fff" stroke-width="0.9"/>
<path d="M427.5,469.6 L439.8,465.3 M427.5,473.0 L439.8,468.7" stroke-width="0.8"/>
<path d="M429.5,472.0 l1.6,-2.4" stroke-width="0.55"/>
<path d="M432.1,471.1 l1.6,-2.4" stroke-width="0.55"/>
<path d="M434.7,470.2 l1.6,-2.4" stroke-width="0.55"/>
<path d="M437.3,469.3 l1.6,-2.4" stroke-width="0.55"/>
<path d="M427.5,476.8 L424.6,479.0 L427.5,480.2" fill="#fff" stroke-width="0.9"/>
<path d="M439.8,472.5 L442.9,474.7 L439.8,475.9" fill="#fff" stroke-width="0.9"/>
<path d="M427.5,476.8 L439.8,472.5 M427.5,480.2 L439.8,475.9" stroke-width="0.8"/>
<path d="M429.5,479.2 l1.6,-2.4" stroke-width="0.55"/>
<path d="M432.1,478.3 l1.6,-2.4" stroke-width="0.55"/>
<path d="M434.7,477.4 l1.6,-2.4" stroke-width="0.55"/>
<path d="M437.3,476.5 l1.6,-2.4" stroke-width="0.55"/>
<path d="M427.5,484.0 L424.6,486.2 L427.5,487.4" fill="#fff" stroke-width="0.9"/>
<path d="M439.8,479.7 L442.9,481.9 L439.8,483.1" fill="#fff" stroke-width="0.9"/>
<path d="M427.5,484.0 L439.8,479.7 M427.5,487.4 L439.8,483.1" stroke-width="0.8"/>
<path d="M429.5,486.4 l1.6,-2.4" stroke-width="0.55"/>
<path d="M432.1,485.5 l1.6,-2.4" stroke-width="0.55"/>
<path d="M434.7,484.6 l1.6,-2.4" stroke-width="0.55"/>
<path d="M437.3,483.7 l1.6,-2.4" stroke-width="0.55"/>
<path d="M427.5,491.2 L424.6,493.4 L427.5,494.6" fill="#fff" stroke-width="0.9"/>
<path d="M439.8,486.9 L442.9,489.1 L439.8,490.3" fill="#fff" stroke-width="0.9"/>
<path d="M427.5,491.2 L439.8,486.9 M427.5,494.6 L439.8,490.3" stroke-width="0.8"/>
<path d="M429.5,493.6 l1.6,-2.4" stroke-width="0.55"/>
<path d="M432.1,492.7 l1.6,-2.4" stroke-width="0.55"/>
<path d="M434.7,491.8 l1.6,-2.4" stroke-width="0.55"/>
<path d="M437.3,490.9 l1.6,-2.4" stroke-width="0.55"/>
<path d="M427.5,498.4 L424.6,500.6 L427.5,501.8" fill="#fff" stroke-width="0.9"/>
<path d="M439.8,494.1 L442.9,496.3 L439.8,497.5" fill="#fff" stroke-width="0.9"/>
<path d="M427.5,498.4 L439.8,494.1 M427.5,501.8 L439.8,497.5" stroke-width="0.8"/>
<path d="M429.5,500.8 l1.6,-2.4" stroke-width="0.55"/>
<path d="M432.1,499.9 l1.6,-2.4" stroke-width="0.55"/>
<path d="M434.7,499.0 l1.6,-2.4" stroke-width="0.55"/>
<path d="M437.3,498.1 l1.6,-2.4" stroke-width="0.55"/>
<path d="M427.5,505.6 L424.6,507.8 L427.5,509.0" fill="#fff" stroke-width="0.9"/>
<path d="M439.8,501.3 L442.9,503.5 L439.8,504.7" fill="#fff" stroke-width="0.9"/>
<path d="M427.5,505.6 L439.8,501.3 M427.5,509.0 L439.8,504.7" stroke-width="0.8"/>
<path d="M429.5,508.0 l1.6,-2.4" stroke-width="0.55"/>
<path d="M432.1,507.1 l1.6,-2.4" stroke-width="0.55"/>
<path d="M434.7,506.2 l1.6,-2.4" stroke-width="0.55"/>
<path d="M437.3,505.3 l1.6,-2.4" stroke-width="0.55"/>
<path d="M427.5,512.8 L424.6,515.0 L427.5,516.2" fill="#fff" stroke-width="0.9"/>
<path d="M439.8,508.5 L442.9,510.7 L439.8,511.9" fill="#fff" stroke-width="0.9"/>
<path d="M427.5,512.8 L439.8,508.5 M427.5,516.2 L439.8,511.9" stroke-width="0.8"/>
<path d="M429.5,515.2 l1.6,-2.4" stroke-width="0.55"/>
<path d="M432.1,514.3 l1.6,-2.4" stroke-width="0.55"/>
<path d="M434.7,513.4 l1.6,-2.4" stroke-width="0.55"/>
<path d="M437.3,512.5 l1.6,-2.4" stroke-width="0.55"/>
<path d="M427.5,520.0 L424.6,522.2 L427.5,523.4" fill="#fff" stroke-width="0.9"/>
<path d="M439.8,515.7 L442.9,517.9 L439.8,519.1" fill="#fff" stroke-width="0.9"/>
<path d="M427.5,520.0 L439.8,515.7 M427.5,523.4 L439.8,519.1" stroke-width="0.8"/>
<path d="M429.5,522.4 l1.6,-2.4" stroke-width="0.55"/>
<path d="M432.1,521.5 l1.6,-2.4" stroke-width="0.55"/>
<path d="M434.7,520.6 l1.6,-2.4" stroke-width="0.55"/>
<path d="M437.3,519.7 l1.6,-2.4" stroke-width="0.55"/>
<path d="M427.5,527.2 L424.6,529.4 L427.5,530.6" fill="#fff" stroke-width="0.9"/>
<path d="M439.8,522.9 L442.9,525.1 L439.8,526.3" fill="#fff" stroke-width="0.9"/>
<path d="M427.5,527.2 L439.8,522.9 M427.5,530.6 L439.8,526.3" stroke-width="0.8"/>
<path d="M429.5,529.6 l1.6,-2.4" stroke-width="0.55"/>
<path d="M432.1,528.7 l1.6,-2.4" stroke-width="0.55"/>
<path d="M434.7,527.8 l1.6,-2.4" stroke-width="0.55"/>
<path d="M437.3,526.9 l1.6,-2.4" stroke-width="0.55"/>
<path d="M427.5,534.4 L424.6,536.6 L427.5,537.8" fill="#fff" stroke-width="0.9"/>
<path d="M439.8,530.1 L442.9,532.3 L439.8,533.5" fill="#fff" stroke-width="0.9"/>
<path d="M427.5,534.4 L439.8,530.1 M427.5,537.8 L439.8,533.5" stroke-width="0.8"/>
<path d="M429.5,536.8 l1.6,-2.4" stroke-width="0.55"/>
<path d="M432.1,535.9 l1.6,-2.4" stroke-width="0.55"/>
<path d="M434.7,535.0 l1.6,-2.4" stroke-width="0.55"/>
<path d="M437.3,534.1 l1.6,-2.4" stroke-width="0.55"/>
<path d="M427.5,541.6 L424.6,543.8 L427.5,545.0" fill="#fff" stroke-width="0.9"/>
<path d="M439.8,537.3 L442.9,539.5 L439.8,540.7" fill="#fff" stroke-width="0.9"/>
<path d="M427.5,541.6 L439.8,537.3 M427.5,545.0 L439.8,540.7" stroke-width="0.8"/>
<path d="M429.5,544.0 l1.6,-2.4" stroke-width="0.55"/>
<path d="M432.1,543.1 l1.6,-2.4" stroke-width="0.55"/>
<path d="M434.7,542.2 l1.6,-2.4" stroke-width="0.55"/>
<path d="M437.3,541.3 l1.6,-2.4" stroke-width="0.55"/>
<path d="M427.5,548.8 L424.6,551.0 L427.5,552.2" fill="#fff" stroke-width="0.9"/>
<path d="M439.8,544.5 L442.9,546.7 L439.8,547.9" fill="#fff" stroke-width="0.9"/>
<path d="M427.5,548.8 L439.8,544.5 M427.5,552.2 L439.8,547.9" stroke-width="0.8"/>
<path d="M429.5,551.2 l1.6,-2.4" stroke-width="0.55"/>
<path d="M432.1,550.3 l1.6,-2.4" stroke-width="0.55"/>
<path d="M434.7,549.4 l1.6,-2.4" stroke-width="0.55"/>
<path d="M437.3,548.5 l1.6,-2.4" stroke-width="0.55"/>
<path d="M427.5,556.0 L424.6,558.2 L427.5,559.4" fill="#fff" stroke-width="0.9"/>
<path d="M439.8,551.7 L442.9,553.9 L439.8,555.1" fill="#fff" stroke-width="0.9"/>
<path d="M427.5,556.0 L439.8,551.7 M427.5,559.4 L439.8,555.1" stroke-width="0.8"/>
<path d="M429.5,558.4 l1.6,-2.4" stroke-width="0.55"/>
<path d="M432.1,557.5 l1.6,-2.4" stroke-width="0.55"/>
<path d="M434.7,556.6 l1.6,-2.4" stroke-width="0.55"/>
<path d="M437.3,555.7 l1.6,-2.4" stroke-width="0.55"/>
<path d="M427.5,563.2 L424.6,565.4 L427.5,566.6" fill="#fff" stroke-width="0.9"/>
<path d="M439.8,558.9 L442.9,561.1 L439.8,562.3" fill="#fff" stroke-width="0.9"/>
<path d="M427.5,563.2 L439.8,558.9 M427.5,566.6 L439.8,562.3" stroke-width="0.8"/>
<path d="M429.5,565.6 l1.6,-2.4" stroke-width="0.55"/>
<path d="M432.1,564.7 l1.6,-2.4" stroke-width="0.55"/>
<path d="M434.7,563.8 l1.6,-2.4" stroke-width="0.55"/>
<path d="M437.3,562.9 l1.6,-2.4" stroke-width="0.55"/>
<rect x="416.3" y="405.3" width="37.3" height="14.1" fill="#fff" stroke-width="1.3"/>
<path d="M425.5,405.3 L425.5,419.4 M444.5,405.3 L444.5,419.4" stroke-width="1.1"/>
<rect x="407.2" y="419.4" width="54.4" height="3.2" fill="#fff" stroke-width="1.3"/>
</g>
<g class="k" stroke-width="1">
<path d="M136.6,567.4 L136.6,658.3 L137.2,667.4 L148.5,678.1 L154.8,674.2 L160.4,662.8 L161,658 L161,567.4" fill="#fff" stroke-width="0.9"/>
<path d="M133.2,576.2 l3.4,0 M161,572.2 l4,0 M136.6,576 L161,572.5" stroke-width="0.6"/>
<path d="M136.6,585.0 L132.2,587.6 L137.2,590.2 L160.4,585.6 L164.8,583.0 L161,580.4 Z" fill="#fff" stroke-width="1.0"/>
<path d="M138.1,587.5 L159.5,582.9" stroke-width="0.5"/>
<path d="M136.6,596.5 L132.2,599.1 L137.2,601.7 L160.4,597.1 L164.8,594.5 L161,591.9 Z" fill="#fff" stroke-width="1.0"/>
<path d="M138.1,598.9 L159.5,594.3" stroke-width="0.5"/>
<path d="M136.6,607.9 L132.2,610.5 L137.2,613.1 L160.4,608.5 L164.8,605.9 L161,603.3 Z" fill="#fff" stroke-width="1.0"/>
<path d="M138.1,610.4 L159.5,605.8" stroke-width="0.5"/>
<path d="M136.6,619.4 L132.2,622.0 L137.2,624.6 L160.4,620.0 L164.8,617.4 L161,614.8 Z" fill="#fff" stroke-width="1.0"/>
<path d="M138.1,621.8 L159.5,617.2" stroke-width="0.5"/>
<path d="M136.6,630.8 L132.2,633.4 L137.2,636.0 L160.4,631.4 L164.8,628.8 L161,626.2 Z" fill="#fff" stroke-width="1.0"/>
<path d="M138.1,633.3 L159.5,628.7" stroke-width="0.5"/>
<path d="M136.6,642.2 L132.2,644.9 L137.2,647.5 L160.4,642.9 L164.8,640.2 L161,637.6 Z" fill="#fff" stroke-width="1.0"/>
<path d="M138.1,644.7 L159.5,640.1" stroke-width="0.5"/>
<path d="M136.6,653.7 L132.2,656.3 L137.2,658.9 L160.4,654.3 L164.8,651.7 L161,649.1 Z" fill="#fff" stroke-width="1.0"/>
<path d="M138.1,656.2 L159.5,651.6" stroke-width="0.5"/>
<path d="M137.2,667.4 L135.8,667.4 L137.5,669.5 M137.2,666.5 L161,662.8 M138,669.8 L159.5,666" stroke-width="0.8"/>
<path d="M141,673 L156,670 M144,676.5 L153.5,674.5" stroke-width="0.6"/>
<path d="M119.1,567.4 L119.1,562 C120,555 132,550.5 145,549.8 L145.5,552.7 L151.5,552.7 L152,549.8 C165,550.5 177,555 177.6,562 L177.6,567.4 Z" fill="#fff" stroke-width="1"/>
<path d="M271.6,571.3 L271.6,630.5 L273.3,632.4 L285.2,632.4 L286.9,630.5 L286.9,571.3" fill="#fff" stroke-width="0.9"/>
<path d="M271.6,579.0 L268.3,580.8 L272.20000000000005,581.9 L286.29999999999995,579.3 L289.9,578.2 L286.9,576.4 Z" fill="#fff" stroke-width="0.85"/>
<path d="M273.1,580.7 L285.4,578.1" stroke-width="0.5"/>
<path d="M271.6,586.8 L268.3,588.6 L272.20000000000005,589.7 L286.29999999999995,587.1 L289.9,586.0 L286.9,584.2 Z" fill="#fff" stroke-width="0.85"/>
<path d="M273.1,588.5 L285.4,585.9" stroke-width="0.5"/>
<path d="M271.6,594.6 L268.3,596.4 L272.20000000000005,597.5 L286.29999999999995,594.9 L289.9,593.8 L286.9,592.0 Z" fill="#fff" stroke-width="0.85"/>
<path d="M273.1,596.3 L285.4,593.7" stroke-width="0.5"/>
<path d="M271.6,602.4 L268.3,604.2 L272.20000000000005,605.3 L286.29999999999995,602.7 L289.9,601.6 L286.9,599.8 Z" fill="#fff" stroke-width="0.85"/>
<path d="M273.1,604.1 L285.4,601.5" stroke-width="0.5"/>
<path d="M271.6,610.2 L268.3,612.0 L272.20000000000005,613.1 L286.29999999999995,610.5 L289.9,609.4 L286.9,607.6 Z" fill="#fff" stroke-width="0.85"/>
<path d="M273.1,611.9 L285.4,609.3" stroke-width="0.5"/>
<path d="M271.6,618.0 L268.3,619.8 L272.20000000000005,620.9 L286.29999999999995,618.3 L289.9,617.2 L286.9,615.4 Z" fill="#fff" stroke-width="0.85"/>
<path d="M273.1,619.7 L285.4,617.1" stroke-width="0.5"/>
<path d="M271.6,625.8 L268.3,627.6 L272.20000000000005,628.7 L286.29999999999995,626.1 L289.9,625.0 L286.9,623.2 Z" fill="#fff" stroke-width="0.85"/>
<path d="M273.1,627.5 L285.4,624.9" stroke-width="0.5"/>
<path d="M271.6,573.5 L269,574.5 L271.6,575.5 M273,574.8 L286.9,572.6" stroke-width="0.7"/>
<path d="M255.8,571.5 L255.8,566 C256.5,559 266,555 276.5,554.2 L277,556 L281,556 L281.5,554.2 C292,555 301,559 301.8,566 L301.8,571.5 Z" fill="#fff" stroke-width="1"/>
<path d="M259,563.6 L286,563.8 M292,563.8 L299,563.8" stroke="#ccc" stroke-width="1"/>
</g>

<g class="k">
<!-- side face -->
<path d="M435.4,591.6 L442.9,600 L443.6,668.8 L434.7,677" fill="#fff" stroke-width="1.3"/>
<!-- front face -->
<path d="M363.2,593.2 L435.4,591.6 L434.7,677 L361.8,674 Z" fill="#fff" stroke-width="1.5"/>
<!-- top & bottom lips -->
<path d="M363.2,599.5 L432,597.5 L435.4,591.6" stroke-width="0.9"/>
<path d="M362.3,599.5 L363.5,593.5" stroke-width="0.9"/>
<path d="M362,669 L431,671 L434.7,677" stroke-width="0.9"/>
<!-- oval -->
<ellipse cx="399.6" cy="632.6" rx="20" ry="28.4" stroke-width="0.9"/>
<path d="M404.5,604.6 C394,605 386,618 385.5,633 C385,648 391,659 398,661" stroke-width="0.8"/>
<path d="M405.5,604.6 C396,606 388.5,618 388,633 C387.5,648 393,659 399.5,661" stroke-width="0.6"/>
</g>

<g class="k">
<path d="M256,782.3 L287.8,767.3 L288.5,749 Q288.8,744.5 292,742.9 L310.8,734.5 Q313,733.8 314.7,734.3 L337.4,741.9 Q340,743.5 338.8,745.5 Q337.8,746.5 336.7,746.9 L320,754.3 Q318.2,755.5 318.2,757.5 L317.9,772.5 Q317.6,775.8 315.8,777.3 L283,792.5 Q280.5,793.6 278,793.3 L257.5,786.5 Q254.8,785 256,782.3 Z" fill="#fff" stroke-width="1.5"/>
<path d="M291,745.5 L318.2,754.5 M290,751 L318,758.3" stroke-width="0.6"/>
<path d="M289,766 L317.5,773.5 M289.5,768.5 L316.5,776" stroke-width="0.6"/>
<path d="M257.5,784 L279,791" stroke-width="0.6"/>
<g transform="translate(284.6,779.4) rotate(-21.6)">
<rect x="-13.3" y="-2.3" width="26.6" height="4.6" rx="2.3" fill="#fff" stroke="#231f20" stroke-width="1.5"/>
<path d="M-11,0.4 L11,0.4" stroke="#231f20" stroke-width="1.1" stroke-linecap="round"/>
</g>
</g>

<g class="k">
<path d="M397.2,761.3 L397.2,763.0 L394.9,765.2 L397.2,767.5 L394.9,769.7 L397.2,771.9 L394.9,774.1 L397.2,776.4 L394.9,778.6 L397.2,780.8 L394.9,783.0 L397.2,785.2 L394.9,787.5 L397.2,789.7 L394.9,791.9 L397.2,794.1 L394.9,796.4 L397.2,798.6 L394.9,800.8 L397.2,803.0 L394.9,805.3 L397.2,807.5 L394.9,809.7 L397.2,812.0 L394.9,814.2 L397.2,816.4 L394.9,818.6 L398.2,819.3 L422.3,819.3 L425.6,817.1 L423.3,814.9 L425.6,812.7 L423.3,810.5 L425.6,808.2 L423.3,806.0 L425.6,803.8 L423.3,801.5 L425.6,799.3 L423.3,797.1 L425.6,794.9 L423.3,792.6 L425.6,790.4 L423.3,788.2 L425.6,786.0 L423.3,783.8 L425.6,781.5 L423.3,779.3 L425.6,777.1 L423.3,774.9 L425.6,772.6 L423.3,770.4 L425.6,768.2 L423.3,766.0 L425.6,763.7 L423.3,761.5 L423.3,761.3" fill="#fff" stroke-width="1.2"/>
<path d="M396.0,765.2 L424.5,761.9" stroke-width="0.9"/>
<path d="M397.2,766.8 L423.3,763.3" stroke-width="0.45"/>
<path d="M396.0,769.7 L424.5,766.4" stroke-width="0.9"/>
<path d="M397.2,771.3 L423.3,767.8" stroke-width="0.45"/>
<path d="M396.0,774.1 L424.5,770.8" stroke-width="0.9"/>
<path d="M397.2,775.7 L423.3,772.2" stroke-width="0.45"/>
<path d="M396.0,778.6 L424.5,775.3" stroke-width="0.9"/>
<path d="M397.2,780.2 L423.3,776.7" stroke-width="0.45"/>
<path d="M396.0,783.0 L424.5,779.7" stroke-width="0.9"/>
<path d="M397.2,784.6 L423.3,781.1" stroke-width="0.45"/>
<path d="M396.0,787.5 L424.5,784.2" stroke-width="0.9"/>
<path d="M397.2,789.1 L423.3,785.6" stroke-width="0.45"/>
<path d="M396.0,791.9 L424.5,788.6" stroke-width="0.9"/>
<path d="M397.2,793.5 L423.3,790.0" stroke-width="0.45"/>
<path d="M396.0,796.4 L424.5,793.1" stroke-width="0.9"/>
<path d="M397.2,798.0 L423.3,794.5" stroke-width="0.45"/>
<path d="M396.0,800.8 L424.5,797.5" stroke-width="0.9"/>
<path d="M397.2,802.4 L423.3,798.9" stroke-width="0.45"/>
<path d="M396.0,805.3 L424.5,802.0" stroke-width="0.9"/>
<path d="M397.2,806.9 L423.3,803.4" stroke-width="0.45"/>
<path d="M396.0,809.7 L424.5,806.4" stroke-width="0.9"/>
<path d="M397.2,811.3 L423.3,807.8" stroke-width="0.45"/>
<path d="M396.0,814.2 L424.5,810.9" stroke-width="0.9"/>
<path d="M397.2,815.8 L423.3,812.3" stroke-width="0.45"/>
<path d="M397.2,819.3 L423.3,819.3" stroke-width="1.2"/>
<path d="M375.4,731.4 L444.2,731.4 L449.4,736.3 L449.4,756.1 L444.7,760.8 L375.4,760.8 L370.5,756.1 L370.5,736.3 Z" fill="#fff" stroke-width="1.3"/>
<path d="M370.8,752.8 L449.2,752.8" stroke-width="1"/>
<path d="M374.0,752.5 L374.0,737.2 Q375.0,735 376.1,737.2 L376.1,752.5" fill="#d8d8d8" stroke-width="0.85"/>
<path d="M378.6,752.5 L378.6,737.2 Q379.6,735 380.7,737.2 L380.7,752.5" fill="#d8d8d8" stroke-width="0.85"/>
<path d="M383.1,752.5 L383.1,737.2 Q384.1,735 385.2,737.2 L385.2,752.5" fill="#d8d8d8" stroke-width="0.85"/>
<path d="M387.7,752.5 L387.7,737.2 Q388.7,735 389.8,737.2 L389.8,752.5" fill="#d8d8d8" stroke-width="0.85"/>
<path d="M392.2,752.5 L392.2,737.2 Q393.2,735 394.3,737.2 L394.3,752.5" fill="#d8d8d8" stroke-width="0.85"/>
<path d="M396.8,752.5 L396.8,737.2 Q397.8,735 398.9,737.2 L398.9,752.5" fill="#d8d8d8" stroke-width="0.85"/>
<path d="M401.3,752.5 L401.3,737.2 Q402.3,735 403.4,737.2 L403.4,752.5" fill="#d8d8d8" stroke-width="0.85"/>
<path d="M405.9,752.5 L405.9,737.2 Q406.9,735 408.0,737.2 L408.0,752.5" fill="#d8d8d8" stroke-width="0.85"/>
<path d="M410.4,752.5 L410.4,737.2 Q411.4,735 412.5,737.2 L412.5,752.5" fill="#d8d8d8" stroke-width="0.85"/>
<path d="M415.0,752.5 L415.0,737.2 Q416.0,735 417.1,737.2 L417.1,752.5" fill="#d8d8d8" stroke-width="0.85"/>
<path d="M419.5,752.5 L419.5,737.2 Q420.5,735 421.6,737.2 L421.6,752.5" fill="#d8d8d8" stroke-width="0.85"/>
<path d="M424.1,752.5 L424.1,737.2 Q425.1,735 426.2,737.2 L426.2,752.5" fill="#d8d8d8" stroke-width="0.85"/>
<path d="M428.6,752.5 L428.6,737.2 Q429.6,735 430.7,737.2 L430.7,752.5" fill="#d8d8d8" stroke-width="0.85"/>
<path d="M433.2,752.5 L433.2,737.2 Q434.2,735 435.3,737.2 L435.3,752.5" fill="#d8d8d8" stroke-width="0.85"/>
<path d="M437.7,752.5 L437.7,737.2 Q438.7,735 439.8,737.2 L439.8,752.5" fill="#d8d8d8" stroke-width="0.85"/>
<path d="M442.3,752.5 L442.3,737.2 Q443.3,735 444.4,737.2 L444.4,752.5" fill="#d8d8d8" stroke-width="0.85"/>
<path d="M446.8,752.5 L446.8,737.2 Q447.8,735 448.9,737.2 L448.9,752.5" fill="#d8d8d8" stroke-width="0.85"/>
</g>
<g class="k" stroke-width="1">
<rect x="118.8" y="923.6" width="277.7" height="177" fill="#fff" stroke-width="1.2"/>
<circle cx="257.6" cy="1012.5" r="71" stroke-width="0.9"/>
<path d="M118.8,1012.5 L396.5,1012.5" stroke-width="1.2" stroke-dasharray="6 2.2 1.6 2.2" stroke-linecap="butt"/>
<path d="M257.6,923.6 L257.6,1083.5" stroke-width="1.1" stroke-dasharray="4 2" stroke-linecap="butt"/>
<path d="M306.7,962.1 L257.6,1012.5 L208.3,1061" stroke="#9a9a9a" stroke-width="0.8"/>
<path d="M173.5,952.7 L155.3,952.7 L155.3,1071.3 L173.3,1071.3" stroke-width="1.1"/>
<path d="M173.5,952.7 L173.5,957.5 L342.4,957.5 L342.4,952.7 L333.3,952.7 L333.3,1071.3 L342.7,1071.3" stroke-width="1.1"/>
<path d="M173.5,948.2 L173.5,957.2 M170.0,952.7 L177.0,952.7" stroke-width="1.1" stroke-linecap="butt"/>
<path d="M342.4,948.2 L342.4,957.2 M338.9,952.7 L345.9,952.7" stroke-width="1.1" stroke-linecap="butt"/>
<path d="M173.4,1008.0 L173.4,1017.0 M169.9,1012.5 L176.9,1012.5" stroke-width="1.1" stroke-linecap="butt"/>
<path d="M342.4,1008.0 L342.4,1017.0 M338.9,1012.5 L345.9,1012.5" stroke-width="1.1" stroke-linecap="butt"/>
<path d="M173.3,1066.8 L173.3,1075.8 M169.8,1071.3 L176.8,1071.3" stroke-width="1.1" stroke-linecap="butt"/>
<path d="M342.7,1066.8 L342.7,1075.8 M339.2,1071.3 L346.2,1071.3" stroke-width="1.1" stroke-linecap="butt"/>
<path d="M157.6,949.9 L184.9,932 M329.5,930.9 L355.3,949.9 M159.8,1076.7 L185.2,1096.1 M329.5,1096.1 L356.4,1077.3" stroke="#777" stroke-width="0.6"/>
<circle cx="320.3" cy="952.2" r="8" fill="#fff" stroke-width="0.8"/>
<path d="M315.3,950.2 l9,-1 M314.8,952.7 l10,-1.5 M315.3,955.2 l9,-2.5" stroke-width="0.45"/>
<circle cx="194.2" cy="1071.3" r="8" fill="#fff" stroke-width="0.8"/>
<path d="M189.2,1069.3 l9,-1 M188.7,1071.8 l10,-1.5 M189.2,1074.3 l9,-2.5" stroke-width="0.45"/>
<path d="M255.2,1092.3 L260.2,1092.3 L260.2,1095 L263.4,1095 L257.7,1100.3 L252,1095 L255.2,1095 Z" fill="#231f20" stroke="none"/>
</g>
<text x="195.5" y="943.6" font-size="3.7" font-weight="bold" text-anchor="middle" fill="#444">Drill 3/16″</text>
<text x="195.5" y="947.0" font-size="3.7" font-weight="bold" text-anchor="middle" fill="#444">Pilot Holes</text>
<text x="195.5" y="950.4" font-size="3.7" font-weight="bold" text-anchor="middle" fill="#444">Approx. 1/2″</text>
<text x="195.5" y="953.8" font-size="3.7" font-weight="bold" text-anchor="middle" fill="#444">Deep</text>
<text x="166.7" y="977.3" font-size="3.7" font-weight="bold" text-anchor="middle" fill="#444">7-1/16″ to</text>
<text x="166.7" y="980.7" font-size="3.7" font-weight="bold" text-anchor="middle" fill="#444">Centerline</text>
<text x="166.7" y="984.1" font-size="3.7" font-weight="bold" text-anchor="middle" fill="#444">of Holes</text>
<text x="269.4" y="961.3" font-size="3.7" font-weight="bold" text-anchor="middle" fill="#444">10-5/16″ to</text>
<text x="269.4" y="964.7" font-size="3.7" font-weight="bold" text-anchor="middle" fill="#444">Centerline</text>
<text x="269.4" y="968.1" font-size="3.7" font-weight="bold" text-anchor="middle" fill="#444">of Holes</text>
<text x="355.3" y="974.5" font-size="3.7" font-weight="bold" text-anchor="middle" fill="#444">Drill 3/16″</text>
<text x="355.3" y="977.9" font-size="3.7" font-weight="bold" text-anchor="middle" fill="#444">Pilot Holes</text>
<text x="355.3" y="981.3" font-size="3.7" font-weight="bold" text-anchor="middle" fill="#444">Approx. 1/2″</text>
<text x="355.3" y="984.7" font-size="3.7" font-weight="bold" text-anchor="middle" fill="#444">Deep</text>
<text x="327.7" y="1073.6" font-size="3.7" font-weight="bold" text-anchor="middle" fill="#444">7-1/16″ to</text>
<text x="327.7" y="1077.0" font-size="3.7" font-weight="bold" text-anchor="middle" fill="#444">Centerline</text>
<text x="327.7" y="1080.4" font-size="3.7" font-weight="bold" text-anchor="middle" fill="#444">of Holes</text>
<text x="257.6" y="1089.2" font-size="4.6" font-weight="bold" text-anchor="middle" fill="#231f20" textLength="35.8" lengthAdjust="spacingAndGlyphs">FRONT OF HOOD</text>
<text x="237.8" y="998.5" font-size="9.2" font-weight="bold" fill="#231f20" textLength="40.8" lengthAdjust="spacingAndGlyphs">36≤ Hood</text>
<text x="237.8" y="1006.9" font-size="9.2" font-weight="bold" fill="#231f20" textLength="41.5" lengthAdjust="spacingAndGlyphs">Template</text>
<text x="0" y="0" font-size="3.4" font-weight="bold" fill="#555" transform="translate(231,1047) rotate(-52)">9-1/2″ Dia.</text>
<text x="0" y="0" font-size="2.9" font-weight="bold" fill="#555" transform="translate(147.2,1055) rotate(-90)" textLength="18" lengthAdjust="spacingAndGlyphs">11-1/4″</text>
<text x="0" y="0" font-size="2.9" font-weight="bold" fill="#555" transform="translate(150.4,1055) rotate(-90)" textLength="35" lengthAdjust="spacingAndGlyphs">Centerline to Front Edge</text>
<g class="k">
<path d="M563.6,559.6 L807.3,559.6 Q808.8,559.6 808.8,561.1 L808.8,567.9 Q808.8,569.4 807.3,569.4 L565.1,569.4 Q564.1,567.9 563.6,567.4 Q562.1,567.4 562.1,565.9 L562.1,561.1 Q562.1,559.6 563.6,559.6 Z" fill="#fff" stroke-width="1.1"/>
<path d="M563.1,560.8000000000001 L807.8,560.8000000000001" stroke="#888" stroke-width="0.6"/>
<path d="M565.1,568.8 L806.8,568.8" stroke-width="1"/>
<path d="M567.1,568.4 L567.1,562.6 L574.1,562.6 M574.1,562.6 L574.1,566.9" stroke-width="0.7"/>
<circle cx="569.6" cy="564.8000000000001" r="1.5" stroke-width="0.8"/>
<path d="M566.1,569.6999999999999 Q567.6,566.9 569.1,569.6999999999999" stroke-width="0.9"/>
<path d="M633.6,568.4 L633.6,562.6 L640.6,562.6 M640.6,562.6 L640.6,566.9" stroke-width="0.7"/>
<circle cx="636.1" cy="564.8000000000001" r="1.5" stroke-width="0.8"/>
<path d="M632.6,569.6999999999999 Q634.1,566.9 635.6,569.6999999999999" stroke-width="0.9"/>
<path d="M711.4,568.4 L711.4,562.6 L718.4,562.6 M718.4,562.6 L718.4,566.9" stroke-width="0.7"/>
<circle cx="713.9" cy="564.8000000000001" r="1.5" stroke-width="0.8"/>
<path d="M710.4,569.6999999999999 Q711.9,566.9 713.4,569.6999999999999" stroke-width="0.9"/>
<path d="M796.3,568.4 L796.3,562.6 L803.3,562.6 M803.3,562.6 L803.3,566.9" stroke-width="0.7"/>
<circle cx="798.8" cy="564.8000000000001" r="1.5" stroke-width="0.8"/>
<path d="M795.3,569.6999999999999 Q796.8,566.9 798.3,569.6999999999999" stroke-width="0.9"/>
<path d="M607.7,593.8 L807.7,593.8 Q809.2,593.8 809.2,595.3 L809.2,602.1 Q809.2,603.6 807.7,603.6 L609.2,603.6 Q608.2,602.1 607.7,601.6 Q606.2,601.6 606.2,600.1 L606.2,595.3 Q606.2,593.8 607.7,593.8 Z" fill="#fff" stroke-width="1.1"/>
<path d="M607.2,595.0 L808.2,595.0" stroke="#888" stroke-width="0.6"/>
<path d="M609.2,603.0 L807.2,603.0" stroke-width="1"/>
<path d="M610.9,602.6 L610.9,596.8 L617.9,596.8 M617.9,596.8 L617.9,601.1" stroke-width="0.7"/>
<circle cx="613.4" cy="599.0" r="1.5" stroke-width="0.8"/>
<path d="M609.9,603.9 Q611.4,601.1 612.9,603.9" stroke-width="0.9"/>
<path d="M695.9,602.6 L695.9,596.8 L702.9,596.8 M702.9,596.8 L702.9,601.1" stroke-width="0.7"/>
<circle cx="698.4" cy="599.0" r="1.5" stroke-width="0.8"/>
<path d="M694.9,603.9 Q696.4,601.1 697.9,603.9" stroke-width="0.9"/>
<path d="M796.3,602.6 L796.3,596.8 L803.3,596.8 M803.3,596.8 L803.3,601.1" stroke-width="0.7"/>
<circle cx="798.8" cy="599.0" r="1.5" stroke-width="0.8"/>
<path d="M795.3,603.9 Q796.8,601.1 798.3,603.9" stroke-width="0.9"/>
<path d="M654.7,627.6 L806.9,627.6 Q808.4,627.6 808.4,629.1 L808.4,636.0 Q808.4,637.5 806.9,637.5 L656.2,637.5 Q655.2,636.0 654.7,635.5 Q653.2,635.5 653.2,634.0 L653.2,629.1 Q653.2,627.6 654.7,627.6 Z" fill="#fff" stroke-width="1.1"/>
<path d="M654.2,628.8000000000001 L807.4,628.8000000000001" stroke="#888" stroke-width="0.6"/>
<path d="M656.2,636.9 L806.4,636.9" stroke-width="1"/>
<path d="M659.1,636.5 L659.1,630.6 L666.1,630.6 M666.1,630.6 L666.1,635.0" stroke-width="0.7"/>
<circle cx="661.6" cy="632.8000000000001" r="1.5" stroke-width="0.8"/>
<path d="M658.1,637.8 Q659.6,635.0 661.1,637.8" stroke-width="0.9"/>
<path d="M721.3,636.5 L721.3,630.6 L728.3,630.6 M728.3,630.6 L728.3,635.0" stroke-width="0.7"/>
<circle cx="723.8" cy="632.8000000000001" r="1.5" stroke-width="0.8"/>
<path d="M720.3,637.8 Q721.8,635.0 723.3,637.8" stroke-width="0.9"/>
<path d="M796.3,636.5 L796.3,630.6 L803.3,630.6 M803.3,630.6 L803.3,635.0" stroke-width="0.7"/>
<circle cx="798.8" cy="632.8000000000001" r="1.5" stroke-width="0.8"/>
<path d="M795.3,637.8 Q796.8,635.0 798.3,637.8" stroke-width="0.9"/>
<path d="M709.0,658.8 L808.9,658.8 Q810.4,658.8 810.4,660.3 L810.4,666.7 Q810.4,668.2 808.9,668.2 L710.5,668.2 Q709.5,666.7 709.0,666.2 Q707.5,666.2 707.5,664.7 L707.5,660.3 Q707.5,658.8 709.0,658.8 Z" fill="#fff" stroke-width="1.1"/>
<path d="M708.5,660.0 L809.4,660.0" stroke="#888" stroke-width="0.6"/>
<path d="M710.5,667.6 L808.4,667.6" stroke-width="1"/>
<path d="M711.4,667.2 L711.4,661.8 L718.4,661.8 M718.4,661.8 L718.4,665.7" stroke-width="0.7"/>
<circle cx="713.9" cy="664.0" r="1.5" stroke-width="0.8"/>
<path d="M710.4,668.5 Q711.9,665.7 713.4,668.5" stroke-width="0.9"/>
<path d="M796.3,667.2 L796.3,661.8 L803.3,661.8 M803.3,661.8 L803.3,665.7" stroke-width="0.7"/>
<circle cx="798.8" cy="664.0" r="1.5" stroke-width="0.8"/>
<path d="M795.3,668.5 Q796.8,665.7 798.3,668.5" stroke-width="0.9"/>
</g>
<g class="k">
<path d="M565.3,773.5 L816.6,773.9 L816.9,777.5 L813.6,779.0 L816.1,781.0 L815.1,784.3 L564.8,784.1 Q562.8,781.5 563.0999999999999,779.7 Z" fill="#fff" stroke="#555" stroke-width="0.9"/>
<path d="M565.8,777.4 L815.6,777.8" stroke-width="1.1"/>
<path d="M563.3,780.6 L581.3,780.7 M595.3,780.8 L812.6,781.1" stroke="#999" stroke-width="0.8"/>
<path d="M564.8,784.2 L815.1,784.5" stroke-width="1.4"/>
<path d="M565.6999999999999,773.9 L565.6999999999999,777.4" stroke-width="0.6"/>
<path d="M582.9,777.4 L584.9,781.8 L592.1,781.8 L591.5,779.8 L587.7,779.3 L586.5,777.4" fill="#fff" stroke-width="1"/>
<path d="M582.9,784.3 L585.2,788.5 L592.6,788.5 L592.1,786.6 L588.2,786.4 L587.6,784.3" fill="#fff" stroke-width="1.1"/>
<path d="M686.0,777.4 L688.0,781.8 L695.2,781.8 L694.6,779.8 L690.8000000000001,779.3 L689.6,777.4" fill="#fff" stroke-width="1"/>
<path d="M686.0,784.3 L688.3000000000001,788.5 L695.7,788.5 L695.2,786.6 L691.3000000000001,786.4 L690.7,784.3" fill="#fff" stroke-width="1.1"/>
<path d="M790.9,777.4 L792.9,781.8 L800.1,781.8 L799.5,779.8 L795.7,779.3 L794.5,777.4" fill="#fff" stroke-width="1"/>
<path d="M790.9,784.3 L793.2,788.5 L800.6,788.5 L800.1,786.6 L796.2,786.4 L795.6,784.3" fill="#fff" stroke-width="1.1"/>
<path d="M565.3,801.1 L816.6,801.5 L816.9,805.1 L813.6,806.6 L816.1,808.6 L815.1,811.9 L564.8,811.7 Q562.8,809.1 563.0999999999999,807.3000000000001 Z" fill="#fff" stroke="#555" stroke-width="0.9"/>
<path d="M565.8,805.0 L815.6,805.4" stroke-width="1.1"/>
<path d="M563.3,808.2 L581.3,808.3000000000001 M595.3,808.4 L812.6,808.7" stroke="#999" stroke-width="0.8"/>
<path d="M564.8,811.8000000000001 L815.1,812.1" stroke-width="1.4"/>
<path d="M565.6999999999999,801.5 L565.6999999999999,805.0" stroke-width="0.6"/>
<path d="M582.9,805.0 L584.9,809.4 L592.1,809.4 L591.5,807.4 L587.7,806.9 L586.5,805.0" fill="#fff" stroke-width="1"/>
<path d="M582.9,811.9 L585.2,816.1 L592.6,816.1 L592.1,814.2 L588.2,814.0 L587.6,811.9" fill="#fff" stroke-width="1.1"/>
<path d="M686.0,805.0 L688.0,809.4 L695.2,809.4 L694.6,807.4 L690.8000000000001,806.9 L689.6,805.0" fill="#fff" stroke-width="1"/>
<path d="M686.0,811.9 L688.3000000000001,816.1 L695.7,816.1 L695.2,814.2 L691.3000000000001,814.0 L690.7,811.9" fill="#fff" stroke-width="1.1"/>
<path d="M790.9,805.0 L792.9,809.4 L800.1,809.4 L799.5,807.4 L795.7,806.9 L794.5,805.0" fill="#fff" stroke-width="1"/>
<path d="M790.9,811.9 L793.2,816.1 L800.6,816.1 L800.1,814.2 L796.2,814.0 L795.6,811.9" fill="#fff" stroke-width="1.1"/>
</g>
<g class="k" stroke-width="1">
<path d="M527.3,931 L527.3,978.8 M527.3,991.5 L527.3,1057" stroke-width="1.1"/>
<path d="M527.3,922.7 L523.6,932.7 L531,932.7 Z M527.3,1065.6 L523.6,1055.6 L531,1055.6 Z" fill="#231f20" stroke="none"/>
<path d="M537.1,922.3 L578.5,922.3 M539.1,1066 L581.2,1066" stroke-width="1"/>
<path d="M797.4,944 L797.4,971.2 M797.4,995.2 L797.4,1031" stroke-width="1.1"/>
<path d="M797.4,935.8 L793.9,945 L800.9,945 Z M797.4,1040 L793.9,1030.8 L800.9,1030.8 Z" fill="#231f20" stroke="none"/>
<path d="M771.9,934.3 L814.2,934.3 M771.1,1040.5 L814.2,1040.5" stroke-width="1"/>
<path d="M690.1,927.6 L706,925.4 L768,933.4 L768,1039.1 L755.5,1047.5 L753.8,1046 L753.8,1036 L744.6,1032.4 L743.7,1055.9 L725.3,1063.4 L714.4,1060 L713.5,1057.6 L690.1,1049.2 Z" fill="#fff"/>
<path d="M690.1,937.6 L727.8,943.5 L744.6,939.8 L744.6,1032.4" />
<path d="M727.8,943.5 L727.8,1062.5" stroke="#999" stroke-width="0.6"/>
<path d="M706,925.4 L706,938.5" stroke-width="0.6"/>
<path d="M753.8,936.8 L768,933.4 M753.8,936.8 L753.8,1046" />
<path d="M756.3,937 L756.3,1045" stroke="#888" stroke-width="0.6"/>
<path d="M744.6,940 L746.3,939" stroke-width="0.8"/>
<path d="M615.8,916.1 L639.5,912.9 L688.5,920 L688.5,1066.1 L664.8,1076.4 L663.2,1053.5 L657.7,1051.9 L657.7,925.2 L617.4,927.3 L615.8,927.1 Z" fill="#fff"/>
<path d="M617.4,916 L617.4,927.3" stroke-width="0.6"/>
<path d="M663.2,925 L663.2,1076 M666.4,925 L666.4,1075 M668,925 L668,1074" stroke-width="0.6"/>
<path d="M663.2,924.5 L688.5,920" stroke-width="0.9"/>
<path d="M639.5,913 L639.5,922" stroke="#999" stroke-width="0.5"/>
<path d="M656.6,924.5 L656.6,945" stroke-width="1.1" stroke-dasharray="0.9 0.5" stroke-linecap="butt"/>
<path d="M658.1,924.5 L658.1,945" stroke-width="1.1" stroke-dasharray="0.9 0.5" stroke-linecap="butt"/>
<path d="M659.7,924.5 L659.7,945" stroke-width="1.1" stroke-dasharray="0.9 0.5" stroke-linecap="butt"/>
<path d="M661.2,924.5 L661.2,945" stroke-width="1.1" stroke-dasharray="0.9 0.5" stroke-linecap="butt"/>
<path d="M578.7,920.8 L606.3,918.4 L606.6,925.6 Z" fill="#fff" stroke-width="0.9"/>
<path d="M603.2,918.7 L603.3,925" stroke-width="0.6"/>
<path d="M578.7,920.8 L625.3,928.7 Q628,929.8 630,929.5 L652.1,925.5 L657.7,925.2 L657.7,1083 L656.1,1083.5 L632.4,1094.5 Q629,1095 626.9,1093.8 L581.1,1066.1 Z" fill="#fff"/>
<path d="M626.9,929.3 L627,1093.5" stroke="#999" stroke-width="0.6"/>
<path d="M652.5,925.5 L653.5,1083.5" stroke-width="0.8"/>
<path d="M655.2,925.5 L655.5,1083" stroke="#888" stroke-width="0.5"/>
<path d="M587.6,932.2 l3.3,0.2" stroke-width="1.05" stroke-linecap="butt"/>
<path d="M587.6,934.2 l3.3,0.2" stroke-width="1.05" stroke-linecap="butt"/>
<path d="M587.6,936.1 l3.3,0.2" stroke-width="1.05" stroke-linecap="butt"/>
<path d="M587.6,938.1 l3.3,0.2" stroke-width="1.05" stroke-linecap="butt"/>
<path d="M587.6,940.0 l3.3,0.2" stroke-width="1.05" stroke-linecap="butt"/>
<path d="M587.6,942.0 l3.3,0.2" stroke-width="1.05" stroke-linecap="butt"/>
<path d="M587.6,943.9 l3.3,0.2" stroke-width="1.05" stroke-linecap="butt"/>
<path d="M587.6,945.9 l3.3,0.2" stroke-width="1.05" stroke-linecap="butt"/>
<path d="M587.6,947.8 l3.3,0.2" stroke-width="1.05" stroke-linecap="butt"/>
<path d="M587.6,949.8 l3.3,0.2" stroke-width="1.05" stroke-linecap="butt"/>
<path d="M587.6,951.7 l3.3,0.2" stroke-width="1.05" stroke-linecap="butt"/>
<path d="M587.6,953.7 l3.3,0.2" stroke-width="1.05" stroke-linecap="butt"/>
<path d="M587.6,955.6 l3.3,0.2" stroke-width="1.05" stroke-linecap="butt"/>
<path d="M592.5,933.3 l3.3,0.2" stroke-width="1.05" stroke-linecap="butt"/>
<path d="M592.5,935.3 l3.3,0.2" stroke-width="1.05" stroke-linecap="butt"/>
<path d="M592.5,937.2 l3.3,0.2" stroke-width="1.05" stroke-linecap="butt"/>
<path d="M592.5,939.2 l3.3,0.2" stroke-width="1.05" stroke-linecap="butt"/>
<path d="M592.5,941.1 l3.3,0.2" stroke-width="1.05" stroke-linecap="butt"/>
<path d="M592.5,943.1 l3.3,0.2" stroke-width="1.05" stroke-linecap="butt"/>
<path d="M592.5,945.0 l3.3,0.2" stroke-width="1.05" stroke-linecap="butt"/>
<path d="M592.5,947.0 l3.3,0.2" stroke-width="1.05" stroke-linecap="butt"/>
<path d="M592.5,948.9 l3.3,0.2" stroke-width="1.05" stroke-linecap="butt"/>
<path d="M592.5,950.9 l3.3,0.2" stroke-width="1.05" stroke-linecap="butt"/>
<path d="M592.5,952.8 l3.3,0.2" stroke-width="1.05" stroke-linecap="butt"/>
<path d="M592.5,954.8 l3.3,0.2" stroke-width="1.05" stroke-linecap="butt"/>
<path d="M592.5,956.7 l3.3,0.2" stroke-width="1.05" stroke-linecap="butt"/>
<path d="M597.3,934.4 l3.3,0.2" stroke-width="1.05" stroke-linecap="butt"/>
<path d="M597.3,936.4 l3.3,0.2" stroke-width="1.05" stroke-linecap="butt"/>
<path d="M597.3,938.3 l3.3,0.2" stroke-width="1.05" stroke-linecap="butt"/>
<path d="M597.3,940.3 l3.3,0.2" stroke-width="1.05" stroke-linecap="butt"/>
<path d="M597.3,942.2 l3.3,0.2" stroke-width="1.05" stroke-linecap="butt"/>
<path d="M597.3,944.2 l3.3,0.2" stroke-width="1.05" stroke-linecap="butt"/>
<path d="M597.3,946.1 l3.3,0.2" stroke-width="1.05" stroke-linecap="butt"/>
<path d="M597.3,948.1 l3.3,0.2" stroke-width="1.05" stroke-linecap="butt"/>
<path d="M597.3,950.0 l3.3,0.2" stroke-width="1.05" stroke-linecap="butt"/>
<path d="M597.3,952.0 l3.3,0.2" stroke-width="1.05" stroke-linecap="butt"/>
<path d="M597.3,953.9 l3.3,0.2" stroke-width="1.05" stroke-linecap="butt"/>
<path d="M597.3,955.9 l3.3,0.2" stroke-width="1.05" stroke-linecap="butt"/>
<path d="M597.3,957.8 l3.3,0.2" stroke-width="1.05" stroke-linecap="butt"/>
<path d="M602.1,935.5 l3.3,0.2" stroke-width="1.05" stroke-linecap="butt"/>
<path d="M602.1,937.5 l3.3,0.2" stroke-width="1.05" stroke-linecap="butt"/>
<path d="M602.1,939.4 l3.3,0.2" stroke-width="1.05" stroke-linecap="butt"/>
<path d="M602.1,941.4 l3.3,0.2" stroke-width="1.05" stroke-linecap="butt"/>
<path d="M602.1,943.3 l3.3,0.2" stroke-width="1.05" stroke-linecap="butt"/>
<path d="M602.1,945.2 l3.3,0.2" stroke-width="1.05" stroke-linecap="butt"/>
<path d="M602.1,947.2 l3.3,0.2" stroke-width="1.05" stroke-linecap="butt"/>
<path d="M602.1,949.1 l3.3,0.2" stroke-width="1.05" stroke-linecap="butt"/>
<path d="M602.1,951.1 l3.3,0.2" stroke-width="1.05" stroke-linecap="butt"/>
<path d="M602.1,953.0 l3.3,0.2" stroke-width="1.05" stroke-linecap="butt"/>
<path d="M602.1,955.0 l3.3,0.2" stroke-width="1.05" stroke-linecap="butt"/>
<path d="M602.1,957.0 l3.3,0.2" stroke-width="1.05" stroke-linecap="butt"/>
<path d="M602.1,958.9 l3.3,0.2" stroke-width="1.05" stroke-linecap="butt"/>
<path d="M607.0,936.6 l3.3,0.2" stroke-width="1.05" stroke-linecap="butt"/>
<path d="M607.0,938.6 l3.3,0.2" stroke-width="1.05" stroke-linecap="butt"/>
<path d="M607.0,940.5 l3.3,0.2" stroke-width="1.05" stroke-linecap="butt"/>
<path d="M607.0,942.5 l3.3,0.2" stroke-width="1.05" stroke-linecap="butt"/>
<path d="M607.0,944.4 l3.3,0.2" stroke-width="1.05" stroke-linecap="butt"/>
<path d="M607.0,946.4 l3.3,0.2" stroke-width="1.05" stroke-linecap="butt"/>
<path d="M607.0,948.3 l3.3,0.2" stroke-width="1.05" stroke-linecap="butt"/>
<path d="M607.0,950.2 l3.3,0.2" stroke-width="1.05" stroke-linecap="butt"/>
<path d="M607.0,952.2 l3.3,0.2" stroke-width="1.05" stroke-linecap="butt"/>
<path d="M607.0,954.1 l3.3,0.2" stroke-width="1.05" stroke-linecap="butt"/>
<path d="M607.0,956.1 l3.3,0.2" stroke-width="1.05" stroke-linecap="butt"/>
<path d="M607.0,958.1 l3.3,0.2" stroke-width="1.05" stroke-linecap="butt"/>
<path d="M607.0,960.0 l3.3,0.2" stroke-width="1.05" stroke-linecap="butt"/>
<path d="M611.9,937.7 l3.3,0.2" stroke-width="1.05" stroke-linecap="butt"/>
<path d="M611.9,939.7 l3.3,0.2" stroke-width="1.05" stroke-linecap="butt"/>
<path d="M611.9,941.6 l3.3,0.2" stroke-width="1.05" stroke-linecap="butt"/>
<path d="M611.9,943.6 l3.3,0.2" stroke-width="1.05" stroke-linecap="butt"/>
<path d="M611.9,945.5 l3.3,0.2" stroke-width="1.05" stroke-linecap="butt"/>
<path d="M611.9,947.5 l3.3,0.2" stroke-width="1.05" stroke-linecap="butt"/>
<path d="M611.9,949.4 l3.3,0.2" stroke-width="1.05" stroke-linecap="butt"/>
<path d="M611.9,951.4 l3.3,0.2" stroke-width="1.05" stroke-linecap="butt"/>
<path d="M611.9,953.3 l3.3,0.2" stroke-width="1.05" stroke-linecap="butt"/>
<path d="M611.9,955.2 l3.3,0.2" stroke-width="1.05" stroke-linecap="butt"/>
<path d="M611.9,957.2 l3.3,0.2" stroke-width="1.05" stroke-linecap="butt"/>
<path d="M611.9,959.2 l3.3,0.2" stroke-width="1.05" stroke-linecap="butt"/>
<path d="M611.9,961.1 l3.3,0.2" stroke-width="1.05" stroke-linecap="butt"/>
</g>
</svg>
</body></html>
